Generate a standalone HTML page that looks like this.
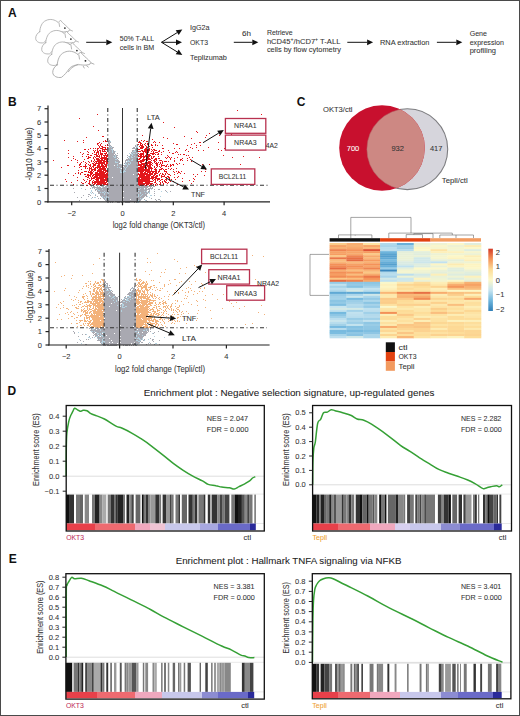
<!DOCTYPE html>
<html><head><meta charset="utf-8"><style>
html,body{margin:0;padding:0;background:#fff;}
svg{display:block;}
text{font-family:"Liberation Sans",sans-serif;}
</style></head><body>
<svg width="520" height="716" viewBox="0 0 520 716">
<rect x="0" y="0" width="520" height="716" fill="#fff"/>
<text x="8" y="16.6" font-size="12" fill="#111" stroke="#111" stroke-width="0" font-weight="bold">A</text>
<g fill="#fff" stroke="#a2a2a2" stroke-width="0.75" stroke-linejoin="round" stroke-linecap="round">
<g transform="translate(0.00,0.00) scale(1.0)"><path d="M39.7 31.7C40 27 42 22 46 20.5C50 18.5 55 19.5 58.2 22.5L60.5 20.2L62.4 22.5C64 24 67 26.5 69.7 29.4L69 31C67 32 64 32 62 31.8C58 31 53 32 50.5 35C48.5 38 46 41 43.5 42.8C40 43.5 36 42 35.7 38.6C35.5 35.5 37.5 33 39.7 31.7Z"/><path d="M49.7 37.8C51 35 54 33 58.2 31.3" fill="none"/><path d="M59 22.8L59.6 26.5" fill="none"/><circle cx="64.9" cy="28.1" r="0.85" fill="#222" stroke="none"/><path d="M66 32.5l1.5 1.2M63 33l0.8 1.5M70 30l2.5 1" fill="none"/></g>
<g transform="translate(6.00,11.00) scale(1.0)"><path d="M39.7 31.7C40 27 42 22 46 20.5C50 18.5 55 19.5 58.2 22.5L60.5 20.2L62.4 22.5C64 24 67 26.5 69.7 29.4L69 31C67 32 64 32 62 31.8C58 31 53 32 50.5 35C48.5 38 46 41 43.5 42.8C40 43.5 36 42 35.7 38.6C35.5 35.5 37.5 33 39.7 31.7Z"/><path d="M49.7 37.8C51 35 54 33 58.2 31.3" fill="none"/><path d="M59 22.8L59.6 26.5" fill="none"/><circle cx="64.9" cy="28.1" r="0.85" fill="#222" stroke="none"/><path d="M66 32.5l1.5 1.2M63 33l0.8 1.5M70 30l2.5 1" fill="none"/></g>
<g transform="translate(12.00,22.50) scale(1.0)"><path d="M39.7 31.7C40 27 42 22 46 20.5C50 18.5 55 19.5 58.2 22.5L60.5 20.2L62.4 22.5C64 24 67 26.5 69.7 29.4L69 31C67 32 64 32 62 31.8C58 31 53 32 50.5 35C48.5 38 46 41 43.5 42.8C40 43.5 36 42 35.7 38.6C35.5 35.5 37.5 33 39.7 31.7Z"/><path d="M49.7 37.8C51 35 54 33 58.2 31.3" fill="none"/><path d="M59 22.8L59.6 26.5" fill="none"/><circle cx="64.9" cy="28.1" r="0.85" fill="#222" stroke="none"/><path d="M66 32.5l1.5 1.2M63 33l0.8 1.5M70 30l2.5 1" fill="none"/></g>
<g transform="translate(12.76,29.40) scale(1.12)"><path d="M39.7 31.7C40 27 42 22 46 20.5C50 18.5 55 19.5 58.2 22.5L60.5 20.2L62.4 22.5C64 24 67 26.5 69.7 29.4L69 31C67 32 64 32 62 31.8C58 31 53 32 50.5 35C48.5 38 46 41 43.5 42.8C40 43.5 36 42 35.7 38.6C35.5 35.5 37.5 33 39.7 31.7Z"/><path d="M49.7 37.8C51 35 54 33 58.2 31.3" fill="none"/><path d="M59 22.8L59.6 26.5" fill="none"/><circle cx="64.9" cy="28.1" r="0.85" fill="#222" stroke="none"/><path d="M66 32.5l1.5 1.2M63 33l0.8 1.5M70 30l2.5 1" fill="none"/></g>
</g>
<line x1="86.2" y1="42.3" x2="106.3" y2="42.3" stroke="#111" stroke-width="1.0"/>
<path d="M112.3 42.3L106.3 45.2L106.3 39.4Z" fill="#111"/>
<text x="119.8" y="40.7" font-size="7.3" fill="#333" stroke="#333" stroke-width="0.06" textLength="34.4" lengthAdjust="spacingAndGlyphs">50% T-ALL</text>
<text x="119.8" y="49.7" font-size="7.3" fill="#333" stroke="#333" stroke-width="0.06" textLength="34.4" lengthAdjust="spacingAndGlyphs">cells in BM</text>
<line x1="161.5" y1="42.3" x2="177.2" y2="32.6" stroke="#111" stroke-width="1.0"/>
<path d="M182.3 29.5L178.7 35.1L175.7 30.2Z" fill="#111"/>
<line x1="161.5" y1="42.3" x2="176.0" y2="42.3" stroke="#111" stroke-width="1.0"/>
<path d="M182.0 42.3L176.0 45.2L176.0 39.4Z" fill="#111"/>
<line x1="161.5" y1="42.3" x2="177.2" y2="51.9" stroke="#111" stroke-width="1.0"/>
<path d="M182.3 55.0L175.7 54.3L178.7 49.4Z" fill="#111"/>
<text x="190" y="30.3" font-size="7.3" fill="#333" stroke="#333" stroke-width="0.06" textLength="19.5" lengthAdjust="spacingAndGlyphs">IgG2a</text>
<text x="190" y="44.9" font-size="7.3" fill="#333" stroke="#333" stroke-width="0.06" textLength="18" lengthAdjust="spacingAndGlyphs">OKT3</text>
<text x="190" y="59.5" font-size="7.3" fill="#333" stroke="#333" stroke-width="0.06" textLength="36.9" lengthAdjust="spacingAndGlyphs">Teplizumab</text>
<text x="242" y="35.5" font-size="7.3" fill="#333" stroke="#333" stroke-width="0.06" textLength="9" lengthAdjust="spacingAndGlyphs">6h</text>
<line x1="233.8" y1="42.3" x2="252.3" y2="42.3" stroke="#111" stroke-width="1.0"/>
<path d="M258.3 42.3L252.3 45.2L252.3 39.4Z" fill="#111"/>
<text x="266.9" y="35.1" font-size="7.3" fill="#333" stroke="#333" stroke-width="0.06" textLength="25.8" lengthAdjust="spacingAndGlyphs">Retrieve</text>
<text x="266.9" y="44" font-size="7.3" fill="#333" stroke="#333" stroke-width="0.06" textLength="73.5" lengthAdjust="spacingAndGlyphs">hCD45<tspan dy="-3" font-size="5">+</tspan><tspan dy="3">/hCD7</tspan><tspan dy="-3" font-size="5">+</tspan><tspan dy="3"> T-ALL</tspan></text>
<text x="266.9" y="52.2" font-size="7.3" fill="#333" stroke="#333" stroke-width="0.06" textLength="74" lengthAdjust="spacingAndGlyphs">cells by flow cytometry</text>
<line x1="347.3" y1="42.3" x2="367.1" y2="42.3" stroke="#111" stroke-width="1.0"/>
<path d="M373.1 42.3L367.1 45.2L367.1 39.4Z" fill="#111"/>
<text x="380" y="44.6" font-size="7.3" fill="#333" stroke="#333" stroke-width="0.06" textLength="49.5" lengthAdjust="spacingAndGlyphs">RNA extraction</text>
<line x1="436.9" y1="42.3" x2="456.3" y2="42.3" stroke="#111" stroke-width="1.0"/>
<path d="M462.3 42.3L456.3 45.2L456.3 39.4Z" fill="#111"/>
<text x="469.7" y="35.9" font-size="7.3" fill="#333" stroke="#333" stroke-width="0.06" textLength="17.3" lengthAdjust="spacingAndGlyphs">Gene</text>
<text x="469.7" y="44.6" font-size="7.3" fill="#333" stroke="#333" stroke-width="0.06" textLength="34.2" lengthAdjust="spacingAndGlyphs">expression</text>
<text x="469.7" y="53.4" font-size="7.3" fill="#333" stroke="#333" stroke-width="0.06" textLength="26.3" lengthAdjust="spacingAndGlyphs">profiling</text>
<text x="8" y="105.5" font-size="12" fill="#111" stroke="#111" stroke-width="0" font-weight="bold">B</text>
<path d="M109 140h1v1h-1zM108 141h2v1h-2zM108 142h3v1h-3zM108 143h2v1h-2zM109 144h1v1h-1zM137 144h1v1h-1zM108 145h3v1h-3zM135 145h1v1h-1zM137 145h1v1h-1zM109 146h3v1h-3zM135 146h3v1h-3zM108 147h6v1h-6zM133 147h2v1h-2zM136 147h2v1h-2zM108 148h5v1h-5zM132 148h3v1h-3zM136 148h2v1h-2zM108 149h4v1h-4zM135 149h3v1h-3zM108 150h6v1h-6zM132 150h6v1h-6zM108 151h7v1h-7zM132 151h1v1h-1zM134 151h4v1h-4zM108 152h7v1h-7zM131 152h7v1h-7zM108 153h7v1h-7zM117 153h1v1h-1zM131 153h7v1h-7zM108 154h6v1h-6zM115 154h1v1h-1zM130 154h8v1h-8zM108 155h10v1h-10zM127 155h1v1h-1zM130 155h8v1h-8zM108 156h9v1h-9zM128 156h10v1h-10zM108 157h10v1h-10zM127 157h1v1h-1zM129 157h9v1h-9zM108 158h9v1h-9zM118 158h1v1h-1zM128 158h10v1h-10zM108 159h10v1h-10zM126 159h12v1h-12zM109 160h10v1h-10zM125 160h13v1h-13zM108 161h12v1h-12zM125 161h1v1h-1zM127 161h11v1h-11zM108 162h12v1h-12zM125 162h13v1h-13zM108 163h11v1h-11zM124 163h14v1h-14zM108 164h14v1h-14zM125 164h12v1h-12zM108 165h6v1h-6zM115 165h7v1h-7zM123 165h15v1h-15zM108 166h14v1h-14zM124 166h14v1h-14zM108 167h14v1h-14zM123 167h15v1h-15zM108 168h13v1h-13zM122 168h15v1h-15zM108 169h14v1h-14zM123 169h15v1h-15zM108 170h30v1h-30zM108 171h30v1h-30zM108 172h30v1h-30zM108 173h30v1h-30zM108 174h25v1h-25zM134 174h4v1h-4zM108 175h30v1h-30zM108 176h30v1h-30zM108 177h4v1h-4zM113 177h25v1h-25zM108 178h30v1h-30zM108 179h30v1h-30zM108 180h30v1h-30zM108 181h30v1h-30zM108 182h30v1h-30zM108 183h30v1h-30zM108 184h30v1h-30zM91 185h1v1h-1zM93 185h1v1h-1zM96 185h1v1h-1zM100 185h2v1h-2zM104 185h1v1h-1zM107 185h30v1h-30zM138 185h4v1h-4zM143 185h2v1h-2zM149 185h1v1h-1zM91 186h1v1h-1zM93 186h2v1h-2zM97 186h1v1h-1zM99 186h1v1h-1zM101 186h3v1h-3zM105 186h47v1h-47zM153 186h2v1h-2zM92 187h9v1h-9zM102 187h46v1h-46zM150 187h1v1h-1zM152 187h1v1h-1zM73 188h1v1h-1zM90 188h1v1h-1zM94 188h1v1h-1zM97 188h47v1h-47zM145 188h2v1h-2zM148 188h5v1h-5zM85 189h1v1h-1zM95 189h55v1h-55zM151 189h1v1h-1zM154 189h1v1h-1zM158 189h2v1h-2zM95 190h1v1h-1zM97 190h11v1h-11zM109 190h38v1h-38zM149 190h1v1h-1zM165 190h1v1h-1zM91 191h1v1h-1zM97 191h26v1h-26zM124 191h23v1h-23zM148 191h2v1h-2zM154 191h1v1h-1zM166 191h1v1h-1zM170 191h1v1h-1zM74 192h1v1h-1zM92 192h1v1h-1zM98 192h52v1h-52zM98 193h50v1h-50zM154 193h1v1h-1zM88 194h2v1h-2zM100 194h47v1h-47zM83 195h1v1h-1zM90 195h1v1h-1zM95 195h1v1h-1zM100 195h47v1h-47zM154 195h1v1h-1zM88 196h1v1h-1zM97 196h1v1h-1zM101 196h44v1h-44zM146 196h1v1h-1zM77 197h1v1h-1zM81 197h1v1h-1zM92 197h1v1h-1zM102 197h21v1h-21zM124 197h20v1h-20zM98 198h1v1h-1zM100 198h1v1h-1zM103 198h40v1h-40zM151 198h1v1h-1zM86 199h1v1h-1zM104 199h26v1h-26zM131 199h11v1h-11zM144 199h1v1h-1zM155 199h1v1h-1zM158 199h2v1h-2zM79 200h1v1h-1zM105 200h36v1h-36zM146 200h1v1h-1zM156 200h1v1h-1zM160 200h1v1h-1zM106 201h8v1h-8zM115 201h25v1h-25zM147 201h1v1h-1zM107 202h2v1h-2zM110 202h1v1h-1zM112 202h1v1h-1zM117 202h3v1h-3zM121 202h1v1h-1zM125 202h5v1h-5zM134 202h1v1h-1zM136 202h3v1h-3z" fill="#a9a9b1"/>
<path d="M110 141h1v1h-1zM109 142h1v1h-1zM110 146h1v1h-1zM136 146h2v1h-2zM109 147h1v1h-1zM111 147h1v1h-1zM137 147h1v1h-1zM135 148h1v1h-1zM111 149h2v1h-2zM137 149h1v1h-1zM112 150h1v1h-1zM134 150h1v1h-1zM109 151h1v1h-1zM112 151h1v1h-1zM115 151h1v1h-1zM133 151h3v1h-3zM112 152h1v1h-1zM132 152h1v1h-1zM129 153h1v1h-1zM131 153h1v1h-1zM133 153h2v1h-2zM136 153h1v1h-1zM131 154h2v1h-2zM115 155h1v1h-1zM132 155h1v1h-1zM113 156h1v1h-1zM115 156h1v1h-1zM128 156h1v1h-1zM131 156h1v1h-1zM134 156h1v1h-1zM114 157h2v1h-2zM129 157h1v1h-1zM131 157h2v1h-2zM129 158h1v1h-1zM115 159h2v1h-2zM132 159h1v1h-1zM128 160h1v1h-1zM131 160h2v1h-2zM115 161h1v1h-1zM127 161h3v1h-3zM115 162h3v1h-3zM126 162h1v1h-1zM130 162h1v1h-1zM125 163h1v1h-1zM128 163h1v1h-1zM130 163h1v1h-1zM117 164h1v1h-1zM121 164h1v1h-1zM125 164h2v1h-2zM128 164h2v1h-2zM117 165h1v1h-1zM127 165h1v1h-1zM127 166h1v1h-1zM117 167h1v1h-1zM119 167h1v1h-1zM124 167h1v1h-1zM126 167h1v1h-1zM120 168h1v1h-1zM122 168h1v1h-1zM125 168h1v1h-1zM125 169h1v1h-1zM120 170h1v1h-1zM124 170h1v1h-1zM120 171h1v1h-1zM123 171h3v1h-3zM120 172h2v1h-2zM123 172h1v1h-1zM122 173h1v1h-1zM122 174h1v1h-1zM98 185h1v1h-1zM99 186h1v1h-1zM101 186h1v1h-1zM140 186h1v1h-1zM102 187h1v1h-1zM107 187h1v1h-1zM81 188h1v1h-1zM92 188h1v1h-1zM96 188h1v1h-1zM140 188h1v1h-1zM97 189h1v1h-1zM102 189h1v1h-1zM138 189h2v1h-2zM144 189h1v1h-1zM151 189h1v1h-1zM91 190h1v1h-1zM98 190h2v1h-2zM91 191h1v1h-1zM104 191h1v1h-1zM138 191h1v1h-1zM144 191h1v1h-1zM146 191h1v1h-1zM161 191h1v1h-1zM90 192h1v1h-1zM100 192h1v1h-1zM102 192h2v1h-2zM105 192h1v1h-1zM107 192h1v1h-1zM140 192h1v1h-1zM147 192h1v1h-1zM149 192h1v1h-1zM167 192h1v1h-1zM91 193h1v1h-1zM93 193h1v1h-1zM104 193h1v1h-1zM108 193h1v1h-1zM140 193h1v1h-1zM145 193h1v1h-1zM149 193h1v1h-1zM95 194h1v1h-1zM104 194h1v1h-1zM107 194h1v1h-1zM138 194h1v1h-1zM142 194h1v1h-1zM138 195h1v1h-1zM141 195h1v1h-1zM150 195h2v1h-2zM102 196h1v1h-1zM106 196h1v1h-1zM138 196h1v1h-1zM140 196h1v1h-1zM147 196h1v1h-1zM160 196h1v1h-1zM94 197h2v1h-2zM102 197h1v1h-1zM104 197h1v1h-1zM106 197h1v1h-1zM108 197h1v1h-1zM149 197h1v1h-1zM91 198h1v1h-1zM105 198h1v1h-1zM107 198h2v1h-2zM140 198h1v1h-1zM142 198h1v1h-1zM105 199h1v1h-1zM107 199h2v1h-2zM141 199h1v1h-1zM107 200h1v1h-1zM137 200h2v1h-2zM145 200h1v1h-1zM107 201h1v1h-1zM137 201h2v1h-2zM137 202h2v1h-2z" fill="#b4d2e0"/>
<path d="M237 110h1v1h-1zM97 114h1v1h-1zM261 114h1v1h-1zM79 118h1v1h-1zM163 122h1v1h-1zM93 126h1v1h-1zM174 127h1v1h-1zM98 130h1v1h-1zM196 131h1v1h-1zM197 132h1v1h-1zM242 132h1v1h-1zM209 133h1v1h-1zM231 134h1v1h-1zM142 135h1v1h-1zM206 135h1v1h-1zM219 135h1v1h-1zM228 135h1v1h-1zM102 136h2v1h-2zM184 136h1v1h-1zM255 136h1v1h-1zM86 137h1v1h-1zM163 137h1v1h-1zM205 137h1v1h-1zM242 137h1v1h-1zM167 138h1v1h-1zM191 138h1v1h-1zM107 139h1v1h-1zM152 139h1v1h-1zM250 139h1v1h-1zM64 140h1v1h-1zM83 140h1v1h-1zM105 140h1v1h-1zM141 140h1v1h-1zM144 140h1v1h-1zM77 141h1v1h-1zM103 141h1v1h-1zM105 141h2v1h-2zM139 141h1v1h-1zM143 141h1v1h-1zM146 141h2v1h-2zM154 141h1v1h-1zM83 142h1v1h-1zM99 142h1v1h-1zM138 142h3v1h-3zM153 142h1v1h-1zM155 142h1v1h-1zM159 142h1v1h-1zM199 142h2v1h-2zM218 142h1v1h-1zM228 142h1v1h-1zM97 143h2v1h-2zM101 143h1v1h-1zM140 143h2v1h-2zM145 143h1v1h-1zM147 143h2v1h-2zM173 143h1v1h-1zM194 143h1v1h-1zM243 143h1v1h-1zM97 144h1v1h-1zM100 144h1v1h-1zM107 144h1v1h-1zM138 144h1v1h-1zM140 144h1v1h-1zM142 144h1v1h-1zM144 144h1v1h-1zM147 144h2v1h-2zM151 144h1v1h-1zM155 144h1v1h-1zM176 144h2v1h-2zM191 144h1v1h-1zM233 144h1v1h-1zM98 145h1v1h-1zM100 145h1v1h-1zM105 145h1v1h-1zM107 145h1v1h-1zM140 145h3v1h-3zM145 145h1v1h-1zM151 145h2v1h-2zM155 145h1v1h-1zM157 145h1v1h-1zM162 145h1v1h-1zM187 145h1v1h-1zM196 145h1v1h-1zM200 145h1v1h-1zM99 146h1v1h-1zM101 146h2v1h-2zM139 146h1v1h-1zM141 146h3v1h-3zM146 146h1v1h-1zM149 146h1v1h-1zM99 147h1v1h-1zM102 147h4v1h-4zM107 147h1v1h-1zM140 147h4v1h-4zM146 147h2v1h-2zM152 147h1v1h-1zM190 147h1v1h-1zM196 147h1v1h-1zM208 147h1v1h-1zM90 148h1v1h-1zM93 148h1v1h-1zM95 148h1v1h-1zM97 148h2v1h-2zM100 148h3v1h-3zM105 148h1v1h-1zM140 148h3v1h-3zM145 148h2v1h-2zM149 148h1v1h-1zM162 148h2v1h-2zM174 148h1v1h-1zM179 148h1v1h-1zM192 148h1v1h-1zM224 148h1v1h-1zM84 149h2v1h-2zM88 149h1v1h-1zM97 149h1v1h-1zM102 149h5v1h-5zM138 149h2v1h-2zM144 149h6v1h-6zM151 149h1v1h-1zM153 149h2v1h-2zM186 149h1v1h-1zM218 149h1v1h-1zM68 150h1v1h-1zM93 150h1v1h-1zM95 150h1v1h-1zM97 150h1v1h-1zM99 150h2v1h-2zM102 150h1v1h-1zM104 150h1v1h-1zM141 150h2v1h-2zM144 150h6v1h-6zM152 150h1v1h-1zM154 150h3v1h-3zM159 150h1v1h-1zM168 150h1v1h-1zM185 150h1v1h-1zM198 150h1v1h-1zM203 150h1v1h-1zM221 150h1v1h-1zM87 151h1v1h-1zM94 151h1v1h-1zM97 151h2v1h-2zM100 151h1v1h-1zM102 151h4v1h-4zM138 151h3v1h-3zM142 151h5v1h-5zM148 151h1v1h-1zM151 151h1v1h-1zM153 151h1v1h-1zM158 151h2v1h-2zM163 151h1v1h-1zM176 151h1v1h-1zM188 151h1v1h-1zM80 152h1v1h-1zM88 152h1v1h-1zM94 152h1v1h-1zM96 152h3v1h-3zM100 152h1v1h-1zM106 152h1v1h-1zM143 152h1v1h-1zM145 152h2v1h-2zM148 152h1v1h-1zM153 152h1v1h-1zM155 152h3v1h-3zM161 152h1v1h-1zM169 152h1v1h-1zM175 152h1v1h-1zM177 152h1v1h-1zM68 153h1v1h-1zM83 153h1v1h-1zM92 153h1v1h-1zM96 153h1v1h-1zM98 153h1v1h-1zM100 153h3v1h-3zM104 153h3v1h-3zM138 153h1v1h-1zM140 153h4v1h-4zM146 153h1v1h-1zM150 153h5v1h-5zM158 153h1v1h-1zM172 153h2v1h-2zM82 154h1v1h-1zM87 154h2v1h-2zM94 154h3v1h-3zM98 154h1v1h-1zM100 154h3v1h-3zM105 154h1v1h-1zM107 154h1v1h-1zM139 154h5v1h-5zM146 154h4v1h-4zM152 154h2v1h-2zM155 154h1v1h-1zM157 154h2v1h-2zM161 154h1v1h-1zM178 154h1v1h-1zM180 154h1v1h-1zM183 154h2v1h-2zM90 155h2v1h-2zM96 155h2v1h-2zM99 155h1v1h-1zM101 155h1v1h-1zM103 155h5v1h-5zM138 155h1v1h-1zM140 155h2v1h-2zM143 155h1v1h-1zM145 155h2v1h-2zM148 155h3v1h-3zM167 155h1v1h-1zM186 155h1v1h-1zM188 155h1v1h-1zM223 155h1v1h-1zM73 156h1v1h-1zM82 156h1v1h-1zM86 156h1v1h-1zM88 156h1v1h-1zM94 156h1v1h-1zM96 156h4v1h-4zM101 156h1v1h-1zM104 156h1v1h-1zM106 156h2v1h-2zM138 156h12v1h-12zM151 156h1v1h-1zM153 156h2v1h-2zM158 156h1v1h-1zM168 156h1v1h-1zM243 156h1v1h-1zM68 157h1v1h-1zM88 157h3v1h-3zM93 157h1v1h-1zM95 157h1v1h-1zM99 157h1v1h-1zM101 157h6v1h-6zM140 157h2v1h-2zM143 157h2v1h-2zM146 157h3v1h-3zM151 157h1v1h-1zM153 157h1v1h-1zM165 157h1v1h-1zM167 157h1v1h-1zM169 157h1v1h-1zM171 157h1v1h-1zM177 157h1v1h-1zM189 157h1v1h-1zM192 157h1v1h-1zM232 157h1v1h-1zM259 157h1v1h-1zM73 158h1v1h-1zM87 158h2v1h-2zM93 158h1v1h-1zM96 158h3v1h-3zM100 158h8v1h-8zM139 158h2v1h-2zM143 158h1v1h-1zM146 158h4v1h-4zM151 158h2v1h-2zM155 158h2v1h-2zM158 158h2v1h-2zM166 158h1v1h-1zM170 158h1v1h-1zM174 158h1v1h-1zM182 158h1v1h-1zM187 158h1v1h-1zM75 159h1v1h-1zM84 159h1v1h-1zM94 159h1v1h-1zM96 159h4v1h-4zM101 159h2v1h-2zM104 159h4v1h-4zM138 159h2v1h-2zM142 159h9v1h-9zM154 159h3v1h-3zM170 159h1v1h-1zM180 159h2v1h-2zM190 159h1v1h-1zM53 160h1v1h-1zM71 160h1v1h-1zM77 160h1v1h-1zM91 160h1v1h-1zM94 160h1v1h-1zM97 160h8v1h-8zM106 160h2v1h-2zM140 160h5v1h-5zM146 160h2v1h-2zM151 160h1v1h-1zM153 160h2v1h-2zM156 160h1v1h-1zM159 160h3v1h-3zM174 160h1v1h-1zM180 160h1v1h-1zM182 160h1v1h-1zM187 160h1v1h-1zM83 161h1v1h-1zM88 161h1v1h-1zM91 161h1v1h-1zM93 161h1v1h-1zM95 161h7v1h-7zM103 161h5v1h-5zM138 161h6v1h-6zM148 161h3v1h-3zM154 161h2v1h-2zM162 161h1v1h-1zM164 161h3v1h-3zM168 161h1v1h-1zM174 161h1v1h-1zM191 161h1v1h-1zM77 162h1v1h-1zM81 162h1v1h-1zM85 162h1v1h-1zM89 162h1v1h-1zM94 162h1v1h-1zM96 162h1v1h-1zM98 162h7v1h-7zM106 162h2v1h-2zM138 162h1v1h-1zM140 162h2v1h-2zM145 162h7v1h-7zM154 162h1v1h-1zM156 162h1v1h-1zM158 162h1v1h-1zM160 162h1v1h-1zM162 162h1v1h-1zM80 163h1v1h-1zM86 163h1v1h-1zM92 163h2v1h-2zM95 163h10v1h-10zM106 163h2v1h-2zM138 163h1v1h-1zM141 163h10v1h-10zM152 163h1v1h-1zM155 163h3v1h-3zM160 163h1v1h-1zM162 163h1v1h-1zM176 163h1v1h-1zM179 163h1v1h-1zM79 164h2v1h-2zM85 164h1v1h-1zM88 164h1v1h-1zM90 164h1v1h-1zM93 164h3v1h-3zM98 164h2v1h-2zM101 164h2v1h-2zM104 164h3v1h-3zM138 164h7v1h-7zM146 164h2v1h-2zM149 164h3v1h-3zM156 164h2v1h-2zM159 164h1v1h-1zM161 164h1v1h-1zM167 164h1v1h-1zM170 164h1v1h-1zM172 164h2v1h-2zM177 164h1v1h-1zM183 164h1v1h-1zM202 164h1v1h-1zM209 164h1v1h-1zM240 164h1v1h-1zM67 165h2v1h-2zM79 165h1v1h-1zM85 165h1v1h-1zM89 165h2v1h-2zM93 165h3v1h-3zM97 165h3v1h-3zM101 165h3v1h-3zM105 165h2v1h-2zM138 165h4v1h-4zM143 165h8v1h-8zM152 165h1v1h-1zM156 165h2v1h-2zM161 165h4v1h-4zM166 165h1v1h-1zM170 165h2v1h-2zM173 165h1v1h-1zM74 166h1v1h-1zM80 166h2v1h-2zM83 166h4v1h-4zM90 166h1v1h-1zM92 166h2v1h-2zM97 166h10v1h-10zM140 166h6v1h-6zM147 166h4v1h-4zM154 166h1v1h-1zM157 166h1v1h-1zM159 166h1v1h-1zM161 166h1v1h-1zM165 166h2v1h-2zM168 166h1v1h-1zM170 166h1v1h-1zM61 167h1v1h-1zM79 167h1v1h-1zM85 167h1v1h-1zM89 167h1v1h-1zM91 167h1v1h-1zM93 167h1v1h-1zM95 167h6v1h-6zM102 167h3v1h-3zM106 167h1v1h-1zM138 167h9v1h-9zM148 167h4v1h-4zM154 167h1v1h-1zM156 167h1v1h-1zM160 167h1v1h-1zM85 168h1v1h-1zM87 168h1v1h-1zM89 168h3v1h-3zM94 168h2v1h-2zM97 168h1v1h-1zM99 168h7v1h-7zM138 168h6v1h-6zM145 168h2v1h-2zM148 168h5v1h-5zM155 168h1v1h-1zM161 168h2v1h-2zM168 168h1v1h-1zM171 168h1v1h-1zM176 168h1v1h-1zM81 169h1v1h-1zM89 169h1v1h-1zM91 169h5v1h-5zM98 169h8v1h-8zM138 169h12v1h-12zM151 169h1v1h-1zM154 169h3v1h-3zM159 169h3v1h-3zM163 169h1v1h-1zM165 169h2v1h-2zM170 169h1v1h-1zM173 169h1v1h-1zM205 169h1v1h-1zM78 170h1v1h-1zM89 170h1v1h-1zM91 170h2v1h-2zM94 170h2v1h-2zM97 170h5v1h-5zM103 170h5v1h-5zM138 170h12v1h-12zM151 170h1v1h-1zM155 170h2v1h-2zM159 170h1v1h-1zM164 170h1v1h-1zM215 170h2v1h-2zM84 171h3v1h-3zM88 171h1v1h-1zM90 171h2v1h-2zM93 171h1v1h-1zM97 171h7v1h-7zM105 171h3v1h-3zM138 171h6v1h-6zM145 171h12v1h-12zM158 171h2v1h-2zM164 171h3v1h-3zM173 171h1v1h-1zM176 171h1v1h-1zM178 171h1v1h-1zM181 171h1v1h-1zM201 171h1v1h-1zM205 171h1v1h-1zM78 172h1v1h-1zM81 172h2v1h-2zM88 172h5v1h-5zM95 172h3v1h-3zM99 172h7v1h-7zM107 172h1v1h-1zM140 172h3v1h-3zM144 172h2v1h-2zM147 172h4v1h-4zM152 172h2v1h-2zM155 172h2v1h-2zM158 172h1v1h-1zM166 172h1v1h-1zM174 172h1v1h-1zM178 172h2v1h-2zM68 173h1v1h-1zM75 173h1v1h-1zM78 173h1v1h-1zM80 173h1v1h-1zM90 173h3v1h-3zM95 173h10v1h-10zM106 173h2v1h-2zM138 173h1v1h-1zM140 173h8v1h-8zM149 173h4v1h-4zM154 173h4v1h-4zM160 173h1v1h-1zM162 173h1v1h-1zM165 173h1v1h-1zM167 173h1v1h-1zM177 173h1v1h-1zM180 173h1v1h-1zM184 173h1v1h-1zM221 173h1v1h-1zM80 174h1v1h-1zM84 174h2v1h-2zM87 174h2v1h-2zM90 174h2v1h-2zM93 174h15v1h-15zM138 174h15v1h-15zM154 174h2v1h-2zM159 174h1v1h-1zM162 174h2v1h-2zM165 174h1v1h-1zM168 174h2v1h-2zM174 174h1v1h-1zM193 174h1v1h-1zM197 174h1v1h-1zM73 175h1v1h-1zM87 175h4v1h-4zM92 175h2v1h-2zM95 175h13v1h-13zM139 175h6v1h-6zM146 175h5v1h-5zM153 175h2v1h-2zM156 175h2v1h-2zM159 175h1v1h-1zM161 175h1v1h-1zM164 175h1v1h-1zM170 175h1v1h-1zM204 175h1v1h-1zM238 175h1v1h-1zM85 176h2v1h-2zM88 176h1v1h-1zM90 176h1v1h-1zM92 176h1v1h-1zM94 176h4v1h-4zM99 176h9v1h-9zM139 176h11v1h-11zM151 176h3v1h-3zM155 176h3v1h-3zM161 176h4v1h-4zM167 176h2v1h-2zM178 176h1v1h-1zM195 176h1v1h-1zM77 177h1v1h-1zM87 177h2v1h-2zM91 177h1v1h-1zM93 177h15v1h-15zM138 177h12v1h-12zM151 177h6v1h-6zM161 177h1v1h-1zM165 177h2v1h-2zM168 177h2v1h-2zM174 177h1v1h-1zM177 177h1v1h-1zM89 178h1v1h-1zM91 178h4v1h-4zM96 178h8v1h-8zM105 178h3v1h-3zM138 178h2v1h-2zM141 178h13v1h-13zM155 178h5v1h-5zM169 178h1v1h-1zM182 178h1v1h-1zM193 178h1v1h-1zM65 179h1v1h-1zM83 179h1v1h-1zM87 179h1v1h-1zM91 179h1v1h-1zM95 179h4v1h-4zM100 179h8v1h-8zM138 179h12v1h-12zM152 179h1v1h-1zM154 179h2v1h-2zM157 179h3v1h-3zM161 179h2v1h-2zM165 179h2v1h-2zM169 179h1v1h-1zM171 179h1v1h-1zM175 179h1v1h-1zM194 179h1v1h-1zM77 180h1v1h-1zM84 180h1v1h-1zM89 180h2v1h-2zM93 180h1v1h-1zM96 180h3v1h-3zM100 180h8v1h-8zM138 180h12v1h-12zM153 180h1v1h-1zM155 180h1v1h-1zM157 180h1v1h-1zM160 180h1v1h-1zM164 180h1v1h-1zM166 180h1v1h-1zM169 180h1v1h-1zM189 180h1v1h-1zM237 180h1v1h-1zM66 181h1v1h-1zM86 181h1v1h-1zM89 181h1v1h-1zM92 181h1v1h-1zM94 181h11v1h-11zM106 181h2v1h-2zM138 181h15v1h-15zM155 181h1v1h-1zM159 181h1v1h-1zM162 181h1v1h-1zM164 181h2v1h-2zM170 181h1v1h-1zM173 181h1v1h-1zM182 181h1v1h-1zM193 181h1v1h-1zM71 182h1v1h-1zM81 182h1v1h-1zM85 182h1v1h-1zM89 182h1v1h-1zM92 182h15v1h-15zM138 182h5v1h-5zM145 182h5v1h-5zM154 182h2v1h-2zM160 182h1v1h-1zM162 182h1v1h-1zM165 182h2v1h-2zM168 182h1v1h-1zM82 183h2v1h-2zM88 183h2v1h-2zM92 183h1v1h-1zM94 183h2v1h-2zM97 183h9v1h-9zM107 183h1v1h-1zM138 183h15v1h-15zM156 183h1v1h-1zM160 183h1v1h-1zM163 183h1v1h-1zM167 183h1v1h-1zM191 183h1v1h-1zM73 184h1v1h-1zM89 184h2v1h-2zM93 184h2v1h-2zM96 184h6v1h-6zM103 184h5v1h-5zM138 184h7v1h-7zM146 184h3v1h-3zM150 184h2v1h-2zM153 184h1v1h-1zM155 184h1v1h-1zM157 184h1v1h-1zM159 184h2v1h-2zM163 184h1v1h-1zM177 184h1v1h-1zM86 185h2v1h-2zM100 185h2v1h-2zM139 185h4v1h-4zM145 185h2v1h-2zM149 185h1v1h-1zM155 185h1v1h-1z" fill="#e3171c"/>
<g stroke="#222" stroke-width="1.2">
<line x1="48" y1="105.6" x2="48" y2="202.4"/>
<line x1="47.4" y1="201.8" x2="270" y2="201.8"/>
<line x1="44.5" y1="201.8" x2="48" y2="201.8"/>
<line x1="44.5" y1="188.5" x2="48" y2="188.5"/>
<line x1="44.5" y1="175.2" x2="48" y2="175.2"/>
<line x1="44.5" y1="161.9" x2="48" y2="161.9"/>
<line x1="44.5" y1="148.6" x2="48" y2="148.6"/>
<line x1="44.5" y1="135.3" x2="48" y2="135.3"/>
<line x1="44.5" y1="122.0" x2="48" y2="122.0"/>
<line x1="44.5" y1="108.7" x2="48" y2="108.7"/>
<line x1="71.7" y1="201.8" x2="71.7" y2="205.3"/>
<line x1="122.5" y1="201.8" x2="122.5" y2="205.3"/>
<line x1="173.3" y1="201.8" x2="173.3" y2="205.3"/>
<line x1="224.1" y1="201.8" x2="224.1" y2="205.3"/>
</g>
<line x1="122.5" y1="108" x2="122.5" y2="201.8" stroke="#333" stroke-width="1"/>
<line x1="107.768" y1="108" x2="107.768" y2="201.8" stroke="#333" stroke-width="1.1" stroke-dasharray="4 2.5 1 2.5"/>
<line x1="137.232" y1="108" x2="137.232" y2="201.8" stroke="#333" stroke-width="1.1" stroke-dasharray="4 2.5 1 2.5"/>
<line x1="50" y1="185.3" x2="270" y2="185.3" stroke="#333" stroke-width="1.1" stroke-dasharray="4 2.5 1 2.5"/>
<text x="41.2" y="204.5" font-size="7.5" fill="#333" stroke="#333" stroke-width="0.06" text-anchor="end">0</text>
<text x="41.2" y="191.2" font-size="7.5" fill="#333" stroke="#333" stroke-width="0.06" text-anchor="end">1</text>
<text x="41.2" y="177.9" font-size="7.5" fill="#333" stroke="#333" stroke-width="0.06" text-anchor="end">2</text>
<text x="41.2" y="164.6" font-size="7.5" fill="#333" stroke="#333" stroke-width="0.06" text-anchor="end">3</text>
<text x="41.2" y="151.3" font-size="7.5" fill="#333" stroke="#333" stroke-width="0.06" text-anchor="end">4</text>
<text x="41.2" y="138.0" font-size="7.5" fill="#333" stroke="#333" stroke-width="0.06" text-anchor="end">5</text>
<text x="41.2" y="124.7" font-size="7.5" fill="#333" stroke="#333" stroke-width="0.06" text-anchor="end">6</text>
<text x="41.2" y="111.4" font-size="7.5" fill="#333" stroke="#333" stroke-width="0.06" text-anchor="end">7</text>
<text x="71.7" y="215.5" font-size="7.5" fill="#333" stroke="#333" stroke-width="0.06" text-anchor="middle">−2</text>
<text x="122.5" y="215.5" font-size="7.5" fill="#333" stroke="#333" stroke-width="0.06" text-anchor="middle">0</text>
<text x="173.3" y="215.5" font-size="7.5" fill="#333" stroke="#333" stroke-width="0.06" text-anchor="middle">2</text>
<text x="224.1" y="215.5" font-size="7.5" fill="#333" stroke="#333" stroke-width="0.06" text-anchor="middle">4</text>
<text x="112.7" y="228" font-size="9.5" fill="#333" stroke="#333" stroke-width="0.06" textLength="92.3" lengthAdjust="spacingAndGlyphs">log2 fold change (OKT3/ctl)</text>
<text x="0" y="0" font-size="9.5" fill="#333" stroke="#333" stroke-width="0.06" textLength="53" lengthAdjust="spacingAndGlyphs" transform="translate(32.3,180.3) rotate(-90)">-log10 (pvalue)</text>
<rect x="225.4" y="118.5" width="40.4" height="14.8" fill="#fff" stroke="#b8324f" stroke-width="1.3"/>
<rect x="225.4" y="135.1" width="40.4" height="15" fill="#fff" stroke="#b8324f" stroke-width="1.3"/>
<rect x="211.3" y="168.9" width="43.5" height="15.5" fill="#fff" stroke="#b8324f" stroke-width="1.3"/>
<text x="234.1" y="128.2" font-size="7.5" fill="#333" stroke="#333" stroke-width="0.06" textLength="22.5" lengthAdjust="spacingAndGlyphs">NR4A1</text>
<text x="234.1" y="145" font-size="7.5" fill="#333" stroke="#333" stroke-width="0.06" textLength="22.5" lengthAdjust="spacingAndGlyphs">NR4A3</text>
<text x="265.8" y="147.7" font-size="7.5" fill="#333" stroke="#333" stroke-width="0.06" textLength="12.1" lengthAdjust="spacingAndGlyphs">4A2</text>
<text x="218.8" y="179.3" font-size="7.5" fill="#333" stroke="#333" stroke-width="0.06" textLength="27.5" lengthAdjust="spacingAndGlyphs">BCL2L11</text>
<text x="147" y="120.2" font-size="7.5" fill="#333" stroke="#333" stroke-width="0.06" textLength="12.7" lengthAdjust="spacingAndGlyphs">LTA</text>
<text x="191" y="196.5" font-size="7.5" fill="#333" stroke="#333" stroke-width="0.06" textLength="14" lengthAdjust="spacingAndGlyphs">TNF</text>
<line x1="145.4" y1="168.8" x2="150.7" y2="128.6" stroke="#111" stroke-width="1.0"/>
<path d="M151.5 122.7L153.6 129.0L147.8 128.3Z" fill="#111"/>
<line x1="203.0" y1="142.7" x2="218.7" y2="133.1" stroke="#111" stroke-width="1.0"/>
<path d="M223.8 130.0L220.2 135.6L217.2 130.7Z" fill="#111"/>
<line x1="191.0" y1="160.0" x2="201.8" y2="166.4" stroke="#111" stroke-width="1.0"/>
<path d="M207.0 169.5L200.4 168.9L203.3 163.9Z" fill="#111"/>
<line x1="166.0" y1="178.0" x2="183.6" y2="186.9" stroke="#111" stroke-width="1.0"/>
<path d="M189.0 189.6L182.3 189.5L184.9 184.3Z" fill="#111"/>
<path d="M104 280h1v1h-1zM104 281h2v1h-2zM104 282h2v1h-2zM106 283h2v1h-2zM105 284h1v1h-1zM107 284h1v1h-1zM104 285h2v1h-2zM107 285h1v1h-1zM109 285h1v1h-1zM104 286h4v1h-4zM134 286h1v1h-1zM104 287h7v1h-7zM132 287h1v1h-1zM134 287h1v1h-1zM104 288h5v1h-5zM131 288h1v1h-1zM133 288h2v1h-2zM104 289h3v1h-3zM108 289h2v1h-2zM130 289h1v1h-1zM133 289h1v1h-1zM135 289h1v1h-1zM104 290h8v1h-8zM130 290h1v1h-1zM132 290h4v1h-4zM104 291h7v1h-7zM112 291h1v1h-1zM131 291h5v1h-5zM104 292h8v1h-8zM129 292h7v1h-7zM104 293h9v1h-9zM128 293h8v1h-8zM104 294h11v1h-11zM127 294h9v1h-9zM105 295h4v1h-4zM110 295h5v1h-5zM129 295h7v1h-7zM104 296h12v1h-12zM118 296h1v1h-1zM125 296h1v1h-1zM127 296h9v1h-9zM105 297h13v1h-13zM124 297h2v1h-2zM127 297h8v1h-8zM104 298h14v1h-14zM125 298h2v1h-2zM128 298h8v1h-8zM104 299h14v1h-14zM119 299h1v1h-1zM121 299h1v1h-1zM123 299h2v1h-2zM126 299h10v1h-10zM104 300h14v1h-14zM122 300h14v1h-14zM104 301h15v1h-15zM121 301h15v1h-15zM104 302h15v1h-15zM120 302h16v1h-16zM104 303h7v1h-7zM112 303h7v1h-7zM122 303h14v1h-14zM104 304h15v1h-15zM121 304h15v1h-15zM104 305h32v1h-32zM105 306h4v1h-4zM110 306h10v1h-10zM121 306h15v1h-15zM104 307h32v1h-32zM104 308h32v1h-32zM104 309h32v1h-32zM104 310h12v1h-12zM117 310h19v1h-19zM104 311h15v1h-15zM120 311h16v1h-16zM105 312h31v1h-31zM104 313h32v1h-32zM104 314h32v1h-32zM105 315h31v1h-31zM104 316h32v1h-32zM104 317h32v1h-32zM105 318h31v1h-31zM104 319h32v1h-32zM104 320h32v1h-32zM104 321h32v1h-32zM104 322h32v1h-32zM104 323h32v1h-32zM104 324h32v1h-32zM104 325h16v1h-16zM121 325h15v1h-15zM105 326h28v1h-28zM134 326h2v1h-2zM105 327h31v1h-31zM89 328h1v1h-1zM91 328h2v1h-2zM95 328h4v1h-4zM100 328h19v1h-19zM120 328h29v1h-29zM150 328h1v1h-1zM91 329h5v1h-5zM97 329h40v1h-40zM138 329h11v1h-11zM150 329h1v1h-1zM90 330h30v1h-30zM121 330h28v1h-28zM73 331h1v1h-1zM91 331h1v1h-1zM93 331h1v1h-1zM95 331h52v1h-52zM148 331h1v1h-1zM150 331h1v1h-1zM158 331h1v1h-1zM74 332h1v1h-1zM92 332h3v1h-3zM97 332h41v1h-41zM139 332h3v1h-3zM143 332h5v1h-5zM154 332h1v1h-1zM74 333h1v1h-1zM93 333h1v1h-1zM95 333h7v1h-7zM103 333h11v1h-11zM115 333h32v1h-32zM153 333h1v1h-1zM82 334h1v1h-1zM85 334h1v1h-1zM94 334h52v1h-52zM93 335h1v1h-1zM95 335h3v1h-3zM99 335h2v1h-2zM102 335h4v1h-4zM107 335h39v1h-39zM78 336h1v1h-1zM89 336h1v1h-1zM95 336h5v1h-5zM101 336h19v1h-19zM121 336h23v1h-23zM92 337h1v1h-1zM94 337h1v1h-1zM97 337h46v1h-46zM98 338h11v1h-11zM110 338h33v1h-33zM150 338h1v1h-1zM86 339h1v1h-1zM88 339h1v1h-1zM98 339h21v1h-21zM121 339h21v1h-21zM144 339h1v1h-1zM152 339h2v1h-2zM80 340h1v1h-1zM97 340h14v1h-14zM112 340h29v1h-29zM143 340h2v1h-2zM152 340h1v1h-1zM159 340h1v1h-1zM83 341h1v1h-1zM100 341h41v1h-41zM153 341h1v1h-1zM77 342h1v1h-1zM100 342h9v1h-9zM110 342h2v1h-2zM113 342h7v1h-7zM121 342h13v1h-13zM135 342h5v1h-5zM141 342h2v1h-2zM101 343h16v1h-16zM118 343h13v1h-13zM132 343h7v1h-7zM148 343h1v1h-1zM150 343h1v1h-1zM156 343h1v1h-1zM85 344h2v1h-2zM102 344h7v1h-7zM110 344h21v1h-21zM132 344h6v1h-6zM146 344h1v1h-1zM154 344h1v1h-1zM159 344h1v1h-1zM103 345h3v1h-3zM107 345h10v1h-10zM123 345h1v1h-1zM125 345h3v1h-3zM129 345h1v1h-1zM131 345h1v1h-1zM133 345h1v1h-1zM135 345h2v1h-2z" fill="#a9a9b1"/>
<path d="M106 285h1v1h-1zM105 286h2v1h-2zM106 288h2v1h-2zM132 288h1v1h-1zM106 290h3v1h-3zM110 290h1v1h-1zM131 291h1v1h-1zM109 292h1v1h-1zM133 292h1v1h-1zM135 292h1v1h-1zM108 293h1v1h-1zM107 294h1v1h-1zM130 294h1v1h-1zM132 295h1v1h-1zM109 296h2v1h-2zM113 296h2v1h-2zM127 296h4v1h-4zM112 297h2v1h-2zM125 297h1v1h-1zM129 297h2v1h-2zM111 298h1v1h-1zM114 298h1v1h-1zM124 298h1v1h-1zM127 298h2v1h-2zM132 298h1v1h-1zM123 299h1v1h-1zM126 299h2v1h-2zM130 299h1v1h-1zM113 300h1v1h-1zM116 300h1v1h-1zM126 300h3v1h-3zM116 301h1v1h-1zM123 301h2v1h-2zM129 301h1v1h-1zM114 302h1v1h-1zM126 302h1v1h-1zM122 303h1v1h-1zM122 304h2v1h-2zM117 305h1v1h-1zM120 305h1v1h-1zM122 305h2v1h-2zM122 306h1v1h-1zM125 306h2v1h-2zM122 307h3v1h-3zM119 309h1v1h-1zM121 310h1v1h-1zM121 311h1v1h-1zM92 328h1v1h-1zM92 329h2v1h-2zM100 329h1v1h-1zM146 329h1v1h-1zM100 330h1v1h-1zM143 330h2v1h-2zM146 330h1v1h-1zM91 331h2v1h-2zM94 331h1v1h-1zM135 331h2v1h-2zM138 331h1v1h-1zM78 332h1v1h-1zM96 332h1v1h-1zM102 332h3v1h-3zM97 333h2v1h-2zM100 333h1v1h-1zM104 333h1v1h-1zM135 333h1v1h-1zM137 333h2v1h-2zM152 333h1v1h-1zM86 334h1v1h-1zM97 334h1v1h-1zM100 334h1v1h-1zM139 334h1v1h-1zM101 335h2v1h-2zM135 335h2v1h-2zM142 335h1v1h-1zM96 336h2v1h-2zM99 336h1v1h-1zM102 336h3v1h-3zM136 336h1v1h-1zM154 336h1v1h-1zM88 337h2v1h-2zM94 337h1v1h-1zM138 337h1v1h-1zM164 337h1v1h-1zM90 338h1v1h-1zM97 338h1v1h-1zM103 338h1v1h-1zM135 338h1v1h-1zM137 338h3v1h-3zM142 338h1v1h-1zM79 339h1v1h-1zM99 339h1v1h-1zM102 339h1v1h-1zM104 339h1v1h-1zM139 339h2v1h-2zM142 339h1v1h-1zM148 339h1v1h-1zM102 340h1v1h-1zM136 340h2v1h-2zM140 340h1v1h-1zM144 340h1v1h-1zM102 341h3v1h-3zM138 341h2v1h-2zM101 342h2v1h-2zM104 342h1v1h-1zM149 342h1v1h-1zM81 343h1v1h-1zM102 343h1v1h-1zM104 343h1v1h-1zM135 343h1v1h-1zM139 343h1v1h-1zM155 343h2v1h-2zM136 344h2v1h-2z" fill="#b4d2e0"/>
<path d="M157 253h1v1h-1zM252 255h1v1h-1zM263 256h1v1h-1zM99 258h1v1h-1zM147 258h1v1h-1zM217 258h1v1h-1zM174 259h1v1h-1zM177 261h1v1h-1zM220 261h1v1h-1zM55 262h1v1h-1zM147 262h1v1h-1zM150 262h1v1h-1zM229 263h1v1h-1zM93 264h1v1h-1zM194 265h1v1h-1zM196 266h1v1h-1zM186 267h1v1h-1zM180 268h1v1h-1zM165 269h1v1h-1zM151 270h1v1h-1zM145 271h1v1h-1zM161 272h1v1h-1zM164 272h1v1h-1zM205 272h1v1h-1zM92 273h1v1h-1zM179 273h1v1h-1zM185 273h1v1h-1zM149 274h1v1h-1zM64 275h1v1h-1zM72 275h1v1h-1zM82 275h1v1h-1zM61 276h1v1h-1zM160 276h1v1h-1zM215 277h1v1h-1zM71 278h1v1h-1zM136 278h1v1h-1zM101 279h2v1h-2zM136 279h1v1h-1zM139 279h2v1h-2zM174 279h2v1h-2zM219 279h1v1h-1zM228 279h1v1h-1zM255 279h1v1h-1zM102 280h2v1h-2zM136 280h2v1h-2zM139 280h1v1h-1zM141 280h1v1h-1zM151 280h1v1h-1zM153 280h1v1h-1zM169 280h1v1h-1zM88 281h1v1h-1zM90 281h1v1h-1zM95 281h1v1h-1zM100 281h1v1h-1zM103 281h1v1h-1zM140 281h1v1h-1zM143 281h1v1h-1zM146 281h1v1h-1zM181 281h1v1h-1zM189 281h1v1h-1zM195 281h1v1h-1zM209 281h1v1h-1zM213 281h1v1h-1zM225 281h1v1h-1zM95 282h1v1h-1zM97 282h2v1h-2zM100 282h1v1h-1zM103 282h1v1h-1zM138 282h2v1h-2zM142 282h3v1h-3zM146 282h1v1h-1zM159 282h1v1h-1zM179 282h1v1h-1zM85 283h2v1h-2zM90 283h1v1h-1zM94 283h1v1h-1zM96 283h3v1h-3zM138 283h2v1h-2zM141 283h3v1h-3zM145 283h1v1h-1zM147 283h1v1h-1zM170 283h1v1h-1zM201 283h1v1h-1zM90 284h1v1h-1zM93 284h2v1h-2zM99 284h1v1h-1zM102 284h2v1h-2zM137 284h1v1h-1zM139 284h3v1h-3zM145 284h3v1h-3zM164 284h1v1h-1zM168 284h1v1h-1zM191 284h1v1h-1zM202 284h1v1h-1zM258 284h1v1h-1zM86 285h1v1h-1zM88 285h1v1h-1zM93 285h1v1h-1zM95 285h1v1h-1zM98 285h4v1h-4zM136 285h1v1h-1zM138 285h1v1h-1zM140 285h1v1h-1zM142 285h1v1h-1zM144 285h3v1h-3zM153 285h2v1h-2zM164 285h1v1h-1zM176 285h1v1h-1zM250 285h1v1h-1zM83 286h1v1h-1zM86 286h1v1h-1zM91 286h1v1h-1zM94 286h2v1h-2zM100 286h1v1h-1zM102 286h2v1h-2zM138 286h4v1h-4zM143 286h4v1h-4zM150 286h2v1h-2zM164 286h1v1h-1zM88 287h1v1h-1zM93 287h1v1h-1zM96 287h4v1h-4zM101 287h1v1h-1zM103 287h1v1h-1zM137 287h1v1h-1zM141 287h6v1h-6zM148 287h3v1h-3zM154 287h1v1h-1zM156 287h1v1h-1zM188 287h1v1h-1zM204 287h1v1h-1zM65 288h1v1h-1zM82 288h1v1h-1zM90 288h1v1h-1zM94 288h2v1h-2zM97 288h2v1h-2zM100 288h2v1h-2zM138 288h1v1h-1zM141 288h2v1h-2zM145 288h2v1h-2zM150 288h1v1h-1zM160 288h1v1h-1zM162 288h1v1h-1zM186 288h1v1h-1zM190 288h1v1h-1zM200 288h1v1h-1zM204 288h1v1h-1zM93 289h2v1h-2zM97 289h1v1h-1zM99 289h3v1h-3zM103 289h1v1h-1zM137 289h2v1h-2zM141 289h1v1h-1zM145 289h3v1h-3zM149 289h1v1h-1zM152 289h1v1h-1zM157 289h1v1h-1zM241 289h1v1h-1zM64 290h1v1h-1zM79 290h1v1h-1zM93 290h2v1h-2zM96 290h1v1h-1zM99 290h1v1h-1zM101 290h2v1h-2zM136 290h5v1h-5zM142 290h1v1h-1zM144 290h1v1h-1zM146 290h3v1h-3zM155 290h1v1h-1zM159 290h2v1h-2zM175 290h1v1h-1zM177 290h1v1h-1zM182 290h1v1h-1zM191 290h1v1h-1zM54 291h1v1h-1zM89 291h2v1h-2zM93 291h2v1h-2zM96 291h2v1h-2zM99 291h2v1h-2zM102 291h1v1h-1zM136 291h1v1h-1zM138 291h3v1h-3zM142 291h3v1h-3zM147 291h1v1h-1zM167 291h1v1h-1zM188 291h1v1h-1zM194 291h1v1h-1zM199 291h1v1h-1zM202 291h1v1h-1zM78 292h1v1h-1zM90 292h1v1h-1zM95 292h4v1h-4zM100 292h4v1h-4zM136 292h2v1h-2zM139 292h2v1h-2zM143 292h2v1h-2zM147 292h1v1h-1zM150 292h1v1h-1zM174 292h1v1h-1zM178 292h1v1h-1zM185 292h1v1h-1zM188 292h1v1h-1zM240 292h1v1h-1zM85 293h1v1h-1zM90 293h1v1h-1zM92 293h2v1h-2zM95 293h4v1h-4zM100 293h3v1h-3zM136 293h2v1h-2zM139 293h1v1h-1zM141 293h2v1h-2zM144 293h1v1h-1zM147 293h1v1h-1zM152 293h1v1h-1zM178 293h1v1h-1zM197 293h1v1h-1zM83 294h1v1h-1zM90 294h1v1h-1zM92 294h3v1h-3zM96 294h8v1h-8zM136 294h4v1h-4zM141 294h6v1h-6zM148 294h1v1h-1zM150 294h1v1h-1zM152 294h1v1h-1zM154 294h1v1h-1zM169 294h1v1h-1zM193 294h1v1h-1zM212 294h1v1h-1zM223 294h1v1h-1zM228 294h1v1h-1zM69 295h1v1h-1zM86 295h1v1h-1zM91 295h1v1h-1zM95 295h2v1h-2zM98 295h1v1h-1zM100 295h1v1h-1zM102 295h2v1h-2zM136 295h3v1h-3zM141 295h1v1h-1zM143 295h1v1h-1zM145 295h1v1h-1zM147 295h1v1h-1zM150 295h3v1h-3zM154 295h1v1h-1zM157 295h1v1h-1zM172 295h1v1h-1zM185 295h1v1h-1zM205 295h1v1h-1zM231 295h1v1h-1zM74 296h1v1h-1zM82 296h3v1h-3zM87 296h1v1h-1zM91 296h1v1h-1zM93 296h4v1h-4zM98 296h7v1h-7zM136 296h1v1h-1zM138 296h10v1h-10zM149 296h1v1h-1zM151 296h2v1h-2zM154 296h2v1h-2zM164 296h1v1h-1zM168 296h1v1h-1zM187 296h1v1h-1zM76 297h1v1h-1zM82 297h2v1h-2zM92 297h9v1h-9zM103 297h1v1h-1zM136 297h1v1h-1zM138 297h8v1h-8zM147 297h3v1h-3zM152 297h1v1h-1zM156 297h1v1h-1zM159 297h1v1h-1zM83 298h1v1h-1zM87 298h1v1h-1zM92 298h2v1h-2zM95 298h2v1h-2zM98 298h6v1h-6zM136 298h1v1h-1zM138 298h1v1h-1zM140 298h2v1h-2zM143 298h6v1h-6zM153 298h1v1h-1zM155 298h1v1h-1zM158 298h1v1h-1zM161 298h1v1h-1zM184 298h1v1h-1zM186 298h1v1h-1zM255 298h1v1h-1zM71 299h1v1h-1zM75 299h1v1h-1zM84 299h1v1h-1zM91 299h11v1h-11zM103 299h1v1h-1zM136 299h4v1h-4zM141 299h1v1h-1zM146 299h5v1h-5zM159 299h1v1h-1zM168 299h1v1h-1zM203 299h1v1h-1zM217 299h1v1h-1zM73 300h1v1h-1zM78 300h1v1h-1zM87 300h2v1h-2zM92 300h1v1h-1zM94 300h9v1h-9zM136 300h3v1h-3zM140 300h8v1h-8zM149 300h7v1h-7zM163 300h1v1h-1zM175 300h1v1h-1zM177 300h1v1h-1zM196 300h1v1h-1zM205 300h1v1h-1zM63 301h1v1h-1zM80 301h2v1h-2zM85 301h1v1h-1zM87 301h5v1h-5zM93 301h5v1h-5zM99 301h5v1h-5zM136 301h4v1h-4zM141 301h9v1h-9zM153 301h1v1h-1zM162 301h1v1h-1zM165 301h1v1h-1zM177 301h1v1h-1zM181 301h1v1h-1zM197 301h1v1h-1zM229 301h1v1h-1zM60 302h1v1h-1zM78 302h1v1h-1zM80 302h1v1h-1zM84 302h5v1h-5zM90 302h2v1h-2zM93 302h1v1h-1zM95 302h6v1h-6zM102 302h2v1h-2zM136 302h12v1h-12zM149 302h4v1h-4zM155 302h1v1h-1zM159 302h2v1h-2zM163 302h3v1h-3zM188 302h1v1h-1zM236 302h1v1h-1zM61 303h1v1h-1zM82 303h1v1h-1zM90 303h10v1h-10zM101 303h2v1h-2zM136 303h4v1h-4zM141 303h6v1h-6zM148 303h5v1h-5zM155 303h1v1h-1zM159 303h1v1h-1zM162 303h2v1h-2zM165 303h2v1h-2zM172 303h1v1h-1zM175 303h1v1h-1zM231 303h1v1h-1zM58 304h1v1h-1zM76 304h1v1h-1zM79 304h2v1h-2zM86 304h1v1h-1zM89 304h1v1h-1zM92 304h4v1h-4zM97 304h7v1h-7zM137 304h2v1h-2zM140 304h1v1h-1zM142 304h9v1h-9zM156 304h1v1h-1zM158 304h1v1h-1zM160 304h1v1h-1zM163 304h1v1h-1zM171 304h1v1h-1zM183 304h1v1h-1zM191 304h1v1h-1zM63 305h1v1h-1zM72 305h1v1h-1zM74 305h1v1h-1zM84 305h1v1h-1zM87 305h5v1h-5zM93 305h11v1h-11zM136 305h1v1h-1zM139 305h6v1h-6zM146 305h2v1h-2zM150 305h2v1h-2zM154 305h2v1h-2zM166 305h1v1h-1zM168 305h1v1h-1zM171 305h1v1h-1zM179 305h1v1h-1zM197 305h1v1h-1zM261 305h1v1h-1zM78 306h1v1h-1zM82 306h2v1h-2zM85 306h3v1h-3zM89 306h2v1h-2zM93 306h1v1h-1zM95 306h8v1h-8zM137 306h7v1h-7zM145 306h5v1h-5zM156 306h1v1h-1zM158 306h2v1h-2zM163 306h3v1h-3zM167 306h1v1h-1zM170 306h2v1h-2zM175 306h1v1h-1zM179 306h1v1h-1zM233 306h1v1h-1zM244 306h1v1h-1zM56 307h1v1h-1zM63 307h1v1h-1zM75 307h2v1h-2zM81 307h1v1h-1zM87 307h1v1h-1zM90 307h1v1h-1zM93 307h1v1h-1zM95 307h1v1h-1zM97 307h7v1h-7zM136 307h3v1h-3zM140 307h9v1h-9zM153 307h2v1h-2zM156 307h1v1h-1zM163 307h1v1h-1zM165 307h1v1h-1zM167 307h1v1h-1zM170 307h1v1h-1zM177 307h2v1h-2zM205 307h1v1h-1zM60 308h1v1h-1zM66 308h2v1h-2zM76 308h3v1h-3zM84 308h1v1h-1zM87 308h1v1h-1zM89 308h1v1h-1zM92 308h2v1h-2zM95 308h2v1h-2zM98 308h6v1h-6zM136 308h12v1h-12zM149 308h1v1h-1zM152 308h1v1h-1zM156 308h1v1h-1zM159 308h2v1h-2zM166 308h1v1h-1zM168 308h1v1h-1zM171 308h1v1h-1zM176 308h1v1h-1zM222 308h1v1h-1zM239 308h1v1h-1zM68 309h1v1h-1zM81 309h1v1h-1zM83 309h1v1h-1zM87 309h1v1h-1zM89 309h3v1h-3zM94 309h10v1h-10zM136 309h13v1h-13zM150 309h4v1h-4zM157 309h1v1h-1zM161 309h1v1h-1zM165 309h1v1h-1zM169 309h1v1h-1zM171 309h1v1h-1zM173 309h1v1h-1zM177 309h2v1h-2zM81 310h2v1h-2zM84 310h3v1h-3zM88 310h1v1h-1zM92 310h4v1h-4zM97 310h5v1h-5zM103 310h1v1h-1zM136 310h12v1h-12zM149 310h2v1h-2zM153 310h1v1h-1zM157 310h3v1h-3zM163 310h1v1h-1zM165 310h1v1h-1zM171 310h1v1h-1zM173 310h1v1h-1zM175 310h1v1h-1zM179 310h1v1h-1zM198 310h1v1h-1zM210 310h1v1h-1zM71 311h1v1h-1zM81 311h1v1h-1zM83 311h3v1h-3zM87 311h1v1h-1zM90 311h2v1h-2zM93 311h11v1h-11zM136 311h13v1h-13zM152 311h4v1h-4zM157 311h1v1h-1zM164 311h1v1h-1zM166 311h1v1h-1zM176 311h1v1h-1zM179 311h1v1h-1zM182 311h1v1h-1zM186 311h1v1h-1zM67 312h1v1h-1zM70 312h1v1h-1zM77 312h1v1h-1zM83 312h1v1h-1zM85 312h3v1h-3zM89 312h2v1h-2zM93 312h10v1h-10zM136 312h15v1h-15zM154 312h2v1h-2zM159 312h1v1h-1zM161 312h1v1h-1zM163 312h1v1h-1zM173 312h1v1h-1zM177 312h1v1h-1zM181 312h1v1h-1zM258 312h1v1h-1zM65 313h1v1h-1zM73 313h1v1h-1zM85 313h3v1h-3zM89 313h1v1h-1zM91 313h1v1h-1zM93 313h11v1h-11zM137 313h3v1h-3zM141 313h7v1h-7zM151 313h1v1h-1zM153 313h2v1h-2zM156 313h3v1h-3zM163 313h1v1h-1zM166 313h1v1h-1zM183 313h1v1h-1zM188 313h1v1h-1zM197 313h1v1h-1zM59 314h1v1h-1zM68 314h1v1h-1zM74 314h1v1h-1zM82 314h1v1h-1zM84 314h2v1h-2zM91 314h2v1h-2zM94 314h1v1h-1zM96 314h7v1h-7zM137 314h2v1h-2zM140 314h9v1h-9zM150 314h2v1h-2zM153 314h1v1h-1zM155 314h2v1h-2zM158 314h2v1h-2zM162 314h1v1h-1zM168 314h1v1h-1zM172 314h1v1h-1zM174 314h1v1h-1zM177 314h2v1h-2zM181 314h1v1h-1zM264 314h1v1h-1zM78 315h1v1h-1zM80 315h2v1h-2zM85 315h4v1h-4zM90 315h14v1h-14zM136 315h12v1h-12zM149 315h5v1h-5zM157 315h2v1h-2zM161 315h1v1h-1zM163 315h1v1h-1zM171 315h1v1h-1zM71 316h2v1h-2zM80 316h1v1h-1zM86 316h1v1h-1zM89 316h10v1h-10zM100 316h3v1h-3zM136 316h11v1h-11zM148 316h1v1h-1zM150 316h1v1h-1zM154 316h1v1h-1zM160 316h1v1h-1zM166 316h1v1h-1zM170 316h1v1h-1zM173 316h1v1h-1zM180 316h1v1h-1zM186 316h1v1h-1zM76 317h2v1h-2zM84 317h1v1h-1zM86 317h4v1h-4zM91 317h13v1h-13zM136 317h11v1h-11zM148 317h5v1h-5zM154 317h1v1h-1zM158 317h1v1h-1zM168 317h1v1h-1zM177 317h2v1h-2zM68 318h1v1h-1zM74 318h1v1h-1zM84 318h1v1h-1zM86 318h2v1h-2zM89 318h1v1h-1zM92 318h12v1h-12zM136 318h5v1h-5zM142 318h10v1h-10zM154 318h1v1h-1zM160 318h2v1h-2zM171 318h1v1h-1zM177 318h1v1h-1zM184 318h1v1h-1zM197 318h1v1h-1zM211 318h1v1h-1zM57 319h1v1h-1zM61 319h1v1h-1zM84 319h1v1h-1zM89 319h1v1h-1zM92 319h12v1h-12zM136 319h6v1h-6zM143 319h7v1h-7zM151 319h1v1h-1zM153 319h3v1h-3zM159 319h2v1h-2zM162 319h1v1h-1zM164 319h1v1h-1zM168 319h1v1h-1zM170 319h1v1h-1zM76 320h1v1h-1zM79 320h4v1h-4zM84 320h2v1h-2zM87 320h1v1h-1zM90 320h2v1h-2zM93 320h7v1h-7zM101 320h3v1h-3zM136 320h11v1h-11zM148 320h6v1h-6zM155 320h3v1h-3zM162 320h1v1h-1zM169 320h1v1h-1zM172 320h1v1h-1zM174 320h1v1h-1zM177 320h1v1h-1zM196 320h1v1h-1zM80 321h1v1h-1zM84 321h3v1h-3zM88 321h3v1h-3zM93 321h11v1h-11zM136 321h11v1h-11zM149 321h1v1h-1zM152 321h2v1h-2zM155 321h4v1h-4zM163 321h1v1h-1zM168 321h1v1h-1zM175 321h1v1h-1zM177 321h1v1h-1zM179 321h1v1h-1zM79 322h1v1h-1zM89 322h2v1h-2zM92 322h12v1h-12zM136 322h15v1h-15zM155 322h2v1h-2zM160 322h1v1h-1zM164 322h1v1h-1zM172 322h1v1h-1zM71 323h1v1h-1zM76 323h2v1h-2zM83 323h1v1h-1zM85 323h1v1h-1zM87 323h3v1h-3zM91 323h13v1h-13zM136 323h8v1h-8zM145 323h1v1h-1zM147 323h1v1h-1zM150 323h5v1h-5zM156 323h2v1h-2zM164 323h1v1h-1zM171 323h1v1h-1zM174 323h1v1h-1zM186 323h1v1h-1zM252 323h1v1h-1zM83 324h1v1h-1zM88 324h1v1h-1zM90 324h14v1h-14zM136 324h11v1h-11zM150 324h3v1h-3zM155 324h2v1h-2zM158 324h1v1h-1zM161 324h1v1h-1zM245 324h1v1h-1zM80 325h2v1h-2zM84 325h1v1h-1zM87 325h2v1h-2zM90 325h1v1h-1zM93 325h11v1h-11zM136 325h7v1h-7zM145 325h3v1h-3zM150 325h3v1h-3zM155 325h1v1h-1zM158 325h1v1h-1zM162 325h1v1h-1zM77 326h1v1h-1zM89 326h1v1h-1zM91 326h10v1h-10zM102 326h2v1h-2zM136 326h6v1h-6zM143 326h5v1h-5zM149 326h1v1h-1zM151 326h1v1h-1zM153 326h3v1h-3zM157 326h1v1h-1zM165 326h1v1h-1zM72 327h1v1h-1zM92 327h2v1h-2zM95 327h1v1h-1zM97 327h5v1h-5zM103 327h1v1h-1zM136 327h15v1h-15zM159 327h1v1h-1z" fill="#f3b27a"/>
<g stroke="#222" stroke-width="1.2">
<line x1="49" y1="249" x2="49" y2="345.6"/>
<line x1="48.4" y1="345" x2="269.6" y2="345"/>
<line x1="45.5" y1="345.0" x2="49" y2="345.0"/>
<line x1="45.5" y1="331.6" x2="49" y2="331.6"/>
<line x1="45.5" y1="318.2" x2="49" y2="318.2"/>
<line x1="45.5" y1="304.8" x2="49" y2="304.8"/>
<line x1="45.5" y1="291.4" x2="49" y2="291.4"/>
<line x1="45.5" y1="278.0" x2="49" y2="278.0"/>
<line x1="45.5" y1="264.6" x2="49" y2="264.6"/>
<line x1="45.5" y1="251.2" x2="49" y2="251.2"/>
<line x1="66.2" y1="345" x2="66.2" y2="348.5"/>
<line x1="119.6" y1="345" x2="119.6" y2="348.5"/>
<line x1="173.0" y1="345" x2="173.0" y2="348.5"/>
<line x1="226.4" y1="345" x2="226.4" y2="348.5"/>
</g>
<line x1="119.6" y1="252.7" x2="119.6" y2="345" stroke="#333" stroke-width="1"/>
<line x1="104.11399999999999" y1="252.7" x2="104.11399999999999" y2="345" stroke="#333" stroke-width="1.1" stroke-dasharray="4 2.5 1 2.5"/>
<line x1="135.08599999999998" y1="252.7" x2="135.08599999999998" y2="345" stroke="#333" stroke-width="1.1" stroke-dasharray="4 2.5 1 2.5"/>
<line x1="50" y1="327.8" x2="267" y2="327.8" stroke="#333" stroke-width="1.1" stroke-dasharray="4 2.5 1 2.5"/>
<text x="42" y="347.7" font-size="7.5" fill="#333" stroke="#333" stroke-width="0.06" text-anchor="end">0</text>
<text x="42" y="334.3" font-size="7.5" fill="#333" stroke="#333" stroke-width="0.06" text-anchor="end">1</text>
<text x="42" y="320.9" font-size="7.5" fill="#333" stroke="#333" stroke-width="0.06" text-anchor="end">2</text>
<text x="42" y="307.5" font-size="7.5" fill="#333" stroke="#333" stroke-width="0.06" text-anchor="end">3</text>
<text x="42" y="294.09999999999997" font-size="7.5" fill="#333" stroke="#333" stroke-width="0.06" text-anchor="end">4</text>
<text x="42" y="280.7" font-size="7.5" fill="#333" stroke="#333" stroke-width="0.06" text-anchor="end">5</text>
<text x="42" y="267.3" font-size="7.5" fill="#333" stroke="#333" stroke-width="0.06" text-anchor="end">6</text>
<text x="42" y="253.89999999999998" font-size="7.5" fill="#333" stroke="#333" stroke-width="0.06" text-anchor="end">7</text>
<text x="66.19999999999999" y="358.5" font-size="7.5" fill="#333" stroke="#333" stroke-width="0.06" text-anchor="middle">−2</text>
<text x="119.6" y="358.5" font-size="7.5" fill="#333" stroke="#333" stroke-width="0.06" text-anchor="middle">0</text>
<text x="173.0" y="358.5" font-size="7.5" fill="#333" stroke="#333" stroke-width="0.06" text-anchor="middle">2</text>
<text x="226.39999999999998" y="358.5" font-size="7.5" fill="#333" stroke="#333" stroke-width="0.06" text-anchor="middle">4</text>
<text x="115" y="371.9" font-size="9.5" fill="#333" stroke="#333" stroke-width="0.06" textLength="90" lengthAdjust="spacingAndGlyphs">log2 fold change (Tepli/ctl)</text>
<text x="0" y="0" font-size="9.5" fill="#333" stroke="#333" stroke-width="0.06" textLength="53" lengthAdjust="spacingAndGlyphs" transform="translate(33,323) rotate(-90)">-log10 (pvalue)</text>
<rect x="201.6" y="249.2" width="45.3" height="14.5" fill="#fff" stroke="#b8324f" stroke-width="1.3"/>
<rect x="208.8" y="269.7" width="40.7" height="14.4" fill="#fff" stroke="#b8324f" stroke-width="1.3"/>
<rect x="226.7" y="285.7" width="37.9" height="14.5" fill="#fff" stroke="#b8324f" stroke-width="1.3"/>
<text x="257" y="285.7" font-size="7.5" fill="#333" stroke="#333" stroke-width="0.06" textLength="22" lengthAdjust="spacingAndGlyphs">NR4A2</text>
<text x="209.9" y="258.8" font-size="7.5" fill="#333" stroke="#333" stroke-width="0.06" textLength="28.3" lengthAdjust="spacingAndGlyphs">BCL2L11</text>
<text x="217.5" y="279.8" font-size="7.5" fill="#333" stroke="#333" stroke-width="0.06" textLength="23" lengthAdjust="spacingAndGlyphs">NR4A1</text>
<text x="234.3" y="296" font-size="7.5" fill="#333" stroke="#333" stroke-width="0.06" textLength="22.5" lengthAdjust="spacingAndGlyphs">NR4A3</text>
<text x="182" y="321.4" font-size="7.5" fill="#333" stroke="#333" stroke-width="0.06" textLength="14.4" lengthAdjust="spacingAndGlyphs">TNF</text>
<text x="182" y="340.7" font-size="7.5" fill="#333" stroke="#333" stroke-width="0.06" textLength="14" lengthAdjust="spacingAndGlyphs">LTA</text>
<line x1="173.4" y1="294.8" x2="198.1" y2="268.8" stroke="#111" stroke-width="1.0"/>
<path d="M202.2 264.5L200.2 270.8L196.0 266.9Z" fill="#111"/>
<line x1="198.5" y1="287.6" x2="210.6" y2="281.6" stroke="#111" stroke-width="1.0"/>
<path d="M216.0 279.0L211.9 284.2L209.3 279.0Z" fill="#111"/>
<line x1="146.0" y1="316.4" x2="170.2" y2="318.1" stroke="#111" stroke-width="1.0"/>
<path d="M176.2 318.5L170.0 321.0L170.4 315.2Z" fill="#111"/>
<line x1="147.4" y1="323.6" x2="169.3" y2="332.9" stroke="#111" stroke-width="1.0"/>
<path d="M174.8 335.2L168.1 335.5L170.4 330.2Z" fill="#111"/>
<text x="296.8" y="105.8" font-size="12" fill="#111" stroke="#111" stroke-width="0" font-weight="bold">C</text>
<defs><clipPath id="cr"><circle cx="382" cy="148" r="42.8"/></clipPath></defs>
<circle cx="407.3" cy="149.2" r="40.4" fill="#d6d5dc" stroke="#7d7d80" stroke-width="1.1"/>
<circle cx="382" cy="148" r="42.8" fill="#c8102e"/>
<circle cx="407.3" cy="149.2" r="40.4" fill="#cd8883" clip-path="url(#cr)"/>
<circle cx="407.3" cy="149.2" r="40.4" fill="none" stroke="#b06a6a" stroke-width="0.5" clip-path="url(#cr)"/>
<text x="323" y="112.2" font-size="7.5" fill="#333" stroke="#333" stroke-width="0.06" textLength="29.5" lengthAdjust="spacingAndGlyphs">OKT3/ctl</text>
<text x="353" y="150.7" font-size="7.5" fill="#fff" stroke="#fff" stroke-width="0.06" text-anchor="middle" textLength="12.5" lengthAdjust="spacingAndGlyphs">700</text>
<text x="397.7" y="150.7" font-size="7.5" fill="#333" stroke="#333" stroke-width="0.06" text-anchor="middle" textLength="12.5" lengthAdjust="spacingAndGlyphs">932</text>
<text x="436.2" y="150.7" font-size="7.5" fill="#333" stroke="#333" stroke-width="0.06" text-anchor="middle" textLength="12.5" lengthAdjust="spacingAndGlyphs">417</text>
<text x="441.8" y="183" font-size="7.5" fill="#333" stroke="#333" stroke-width="0.06" textLength="25.9" lengthAdjust="spacingAndGlyphs">Tepli/ctl</text>
<rect x="329.60" y="243.00" width="17.12" height="2.34" fill="#fbcb89"/>
<rect x="346.42" y="243.00" width="17.12" height="2.34" fill="#f8af71"/>
<rect x="363.24" y="243.00" width="17.12" height="2.34" fill="#fde2a2"/>
<rect x="380.07" y="243.00" width="17.12" height="2.34" fill="#b1d9eb"/>
<rect x="396.89" y="243.00" width="17.12" height="2.34" fill="#6ab1da"/>
<rect x="413.71" y="243.00" width="17.12" height="2.34" fill="#ebf1d5"/>
<rect x="430.53" y="243.00" width="17.12" height="2.34" fill="#eff3d2"/>
<rect x="447.36" y="243.00" width="17.12" height="2.34" fill="#fbf7ca"/>
<rect x="464.18" y="243.00" width="17.12" height="2.34" fill="#e1eedc"/>
<rect x="329.60" y="245.04" width="17.12" height="2.34" fill="#f6a265"/>
<rect x="346.42" y="245.04" width="17.12" height="2.34" fill="#f8b071"/>
<rect x="363.24" y="245.04" width="17.12" height="2.34" fill="#f7a568"/>
<rect x="380.07" y="245.04" width="17.12" height="2.34" fill="#aad5ea"/>
<rect x="396.89" y="245.04" width="17.12" height="2.34" fill="#a4d2e9"/>
<rect x="413.71" y="245.04" width="17.12" height="2.34" fill="#f1f4d1"/>
<rect x="430.53" y="245.04" width="17.12" height="2.34" fill="#f9f6cb"/>
<rect x="447.36" y="245.04" width="17.12" height="2.34" fill="#eef2d3"/>
<rect x="464.18" y="245.04" width="17.12" height="2.34" fill="#fdedb5"/>
<rect x="329.60" y="247.08" width="17.12" height="2.34" fill="#f8ad6f"/>
<rect x="346.42" y="247.08" width="17.12" height="2.34" fill="#f7a568"/>
<rect x="363.24" y="247.08" width="17.12" height="2.34" fill="#f9b677"/>
<rect x="380.07" y="247.08" width="17.12" height="2.34" fill="#badeed"/>
<rect x="396.89" y="247.08" width="17.12" height="2.34" fill="#a0d0e8"/>
<rect x="413.71" y="247.08" width="17.12" height="2.34" fill="#fdf6c4"/>
<rect x="430.53" y="247.08" width="17.12" height="2.34" fill="#f6f5cd"/>
<rect x="447.36" y="247.08" width="17.12" height="2.34" fill="#f4f5cf"/>
<rect x="464.18" y="247.08" width="17.12" height="2.34" fill="#fbf7ca"/>
<rect x="329.60" y="249.13" width="17.12" height="2.34" fill="#ee8350"/>
<rect x="346.42" y="249.13" width="17.12" height="2.34" fill="#f49359"/>
<rect x="363.24" y="249.13" width="17.12" height="2.34" fill="#dd5234"/>
<rect x="380.07" y="249.13" width="17.12" height="2.34" fill="#b9dded"/>
<rect x="396.89" y="249.13" width="17.12" height="2.34" fill="#b7dced"/>
<rect x="413.71" y="249.13" width="17.12" height="2.34" fill="#fdf8c8"/>
<rect x="430.53" y="249.13" width="17.12" height="2.34" fill="#fde4a6"/>
<rect x="447.36" y="249.13" width="17.12" height="2.34" fill="#f2f4d0"/>
<rect x="464.18" y="249.13" width="17.12" height="2.34" fill="#deeddf"/>
<rect x="329.60" y="251.17" width="17.12" height="2.34" fill="#f6a265"/>
<rect x="346.42" y="251.17" width="17.12" height="2.34" fill="#f7a568"/>
<rect x="363.24" y="251.17" width="17.12" height="2.34" fill="#f69b5f"/>
<rect x="380.07" y="251.17" width="17.12" height="2.34" fill="#6db4dc"/>
<rect x="396.89" y="251.17" width="17.12" height="2.34" fill="#e5efd9"/>
<rect x="413.71" y="251.17" width="17.12" height="2.34" fill="#e3efdb"/>
<rect x="430.53" y="251.17" width="17.12" height="2.34" fill="#fdf0bb"/>
<rect x="447.36" y="251.17" width="17.12" height="2.34" fill="#fdf1bc"/>
<rect x="464.18" y="251.17" width="17.12" height="2.34" fill="#f6f5cd"/>
<rect x="329.60" y="253.21" width="17.12" height="2.34" fill="#f69d61"/>
<rect x="346.42" y="253.21" width="17.12" height="2.34" fill="#f7a76a"/>
<rect x="363.24" y="253.21" width="17.12" height="2.34" fill="#fbc886"/>
<rect x="380.07" y="253.21" width="17.12" height="2.34" fill="#58a3d0"/>
<rect x="396.89" y="253.21" width="17.12" height="2.34" fill="#e7f0d8"/>
<rect x="413.71" y="253.21" width="17.12" height="2.34" fill="#e0eddd"/>
<rect x="430.53" y="253.21" width="17.12" height="2.34" fill="#edf2d4"/>
<rect x="447.36" y="253.21" width="17.12" height="2.34" fill="#f0f3d1"/>
<rect x="464.18" y="253.21" width="17.12" height="2.34" fill="#edf2d4"/>
<rect x="329.60" y="255.25" width="17.12" height="2.34" fill="#fbc685"/>
<rect x="346.42" y="255.25" width="17.12" height="2.34" fill="#ef8551"/>
<rect x="363.24" y="255.25" width="17.12" height="2.34" fill="#f7aa6d"/>
<rect x="380.07" y="255.25" width="17.12" height="2.34" fill="#55a0ce"/>
<rect x="396.89" y="255.25" width="17.12" height="2.34" fill="#eaf1d6"/>
<rect x="413.71" y="255.25" width="17.12" height="2.34" fill="#e9f1d7"/>
<rect x="430.53" y="255.25" width="17.12" height="2.34" fill="#f5f5ce"/>
<rect x="447.36" y="255.25" width="17.12" height="2.34" fill="#fdf7c6"/>
<rect x="464.18" y="255.25" width="17.12" height="2.34" fill="#fdeeb7"/>
<rect x="329.60" y="257.29" width="17.12" height="2.34" fill="#ea7749"/>
<rect x="346.42" y="257.29" width="17.12" height="2.34" fill="#e87145"/>
<rect x="363.24" y="257.29" width="17.12" height="2.34" fill="#f9b778"/>
<rect x="380.07" y="257.29" width="17.12" height="2.34" fill="#60a9d4"/>
<rect x="396.89" y="257.29" width="17.12" height="2.34" fill="#ebf1d5"/>
<rect x="413.71" y="257.29" width="17.12" height="2.34" fill="#d0e8e8"/>
<rect x="430.53" y="257.29" width="17.12" height="2.34" fill="#f5f5ce"/>
<rect x="447.36" y="257.29" width="17.12" height="2.34" fill="#fdf3bf"/>
<rect x="464.18" y="257.29" width="17.12" height="2.34" fill="#fdf5c2"/>
<rect x="329.60" y="259.34" width="17.12" height="2.34" fill="#f9bc7c"/>
<rect x="346.42" y="259.34" width="17.12" height="2.34" fill="#e66c42"/>
<rect x="363.24" y="259.34" width="17.12" height="2.34" fill="#f69b5f"/>
<rect x="380.07" y="259.34" width="17.12" height="2.34" fill="#78bbdf"/>
<rect x="396.89" y="259.34" width="17.12" height="2.34" fill="#e7f0d8"/>
<rect x="413.71" y="259.34" width="17.12" height="2.34" fill="#d1e8e8"/>
<rect x="430.53" y="259.34" width="17.12" height="2.34" fill="#e5efd9"/>
<rect x="447.36" y="259.34" width="17.12" height="2.34" fill="#e4efda"/>
<rect x="464.18" y="259.34" width="17.12" height="2.34" fill="#fdeeb8"/>
<rect x="329.60" y="261.38" width="17.12" height="2.34" fill="#f9b576"/>
<rect x="346.42" y="261.38" width="17.12" height="2.34" fill="#f9ba7b"/>
<rect x="363.24" y="261.38" width="17.12" height="2.34" fill="#f8b172"/>
<rect x="380.07" y="261.38" width="17.12" height="2.34" fill="#65add7"/>
<rect x="396.89" y="261.38" width="17.12" height="2.34" fill="#daebe2"/>
<rect x="413.71" y="261.38" width="17.12" height="2.34" fill="#cce6eb"/>
<rect x="430.53" y="261.38" width="17.12" height="2.34" fill="#c1e1ef"/>
<rect x="447.36" y="261.38" width="17.12" height="2.34" fill="#edf2d4"/>
<rect x="464.18" y="261.38" width="17.12" height="2.34" fill="#eef3d3"/>
<rect x="329.60" y="263.42" width="17.12" height="2.34" fill="#f39057"/>
<rect x="346.42" y="263.42" width="17.12" height="2.34" fill="#f6a064"/>
<rect x="363.24" y="263.42" width="17.12" height="2.34" fill="#f49258"/>
<rect x="380.07" y="263.42" width="17.12" height="2.34" fill="#55a0ce"/>
<rect x="396.89" y="263.42" width="17.12" height="2.34" fill="#d7eae4"/>
<rect x="413.71" y="263.42" width="17.12" height="2.34" fill="#dfedde"/>
<rect x="430.53" y="263.42" width="17.12" height="2.34" fill="#fdf5c4"/>
<rect x="447.36" y="263.42" width="17.12" height="2.34" fill="#fdebb1"/>
<rect x="464.18" y="263.42" width="17.12" height="2.34" fill="#fdf4c1"/>
<rect x="329.60" y="265.46" width="17.12" height="2.34" fill="#f18a54"/>
<rect x="346.42" y="265.46" width="17.12" height="2.34" fill="#f39057"/>
<rect x="363.24" y="265.46" width="17.12" height="2.34" fill="#f7a467"/>
<rect x="380.07" y="265.46" width="17.12" height="2.34" fill="#69b1da"/>
<rect x="396.89" y="265.46" width="17.12" height="2.34" fill="#c0e1ef"/>
<rect x="413.71" y="265.46" width="17.12" height="2.34" fill="#dcece0"/>
<rect x="430.53" y="265.46" width="17.12" height="2.34" fill="#ebf2d5"/>
<rect x="447.36" y="265.46" width="17.12" height="2.34" fill="#fdf4c1"/>
<rect x="464.18" y="265.46" width="17.12" height="2.34" fill="#fdf5c3"/>
<rect x="329.60" y="267.51" width="17.12" height="2.34" fill="#e66c42"/>
<rect x="346.42" y="267.51" width="17.12" height="2.34" fill="#f69c60"/>
<rect x="363.24" y="267.51" width="17.12" height="2.34" fill="#ef8551"/>
<rect x="380.07" y="267.51" width="17.12" height="2.34" fill="#99cce6"/>
<rect x="396.89" y="267.51" width="17.12" height="2.34" fill="#e4efda"/>
<rect x="413.71" y="267.51" width="17.12" height="2.34" fill="#fcf8c9"/>
<rect x="430.53" y="267.51" width="17.12" height="2.34" fill="#fbf7ca"/>
<rect x="447.36" y="267.51" width="17.12" height="2.34" fill="#e2eedb"/>
<rect x="464.18" y="267.51" width="17.12" height="2.34" fill="#fbf7ca"/>
<rect x="329.60" y="269.55" width="17.12" height="2.34" fill="#f8ae70"/>
<rect x="346.42" y="269.55" width="17.12" height="2.34" fill="#fabe7e"/>
<rect x="363.24" y="269.55" width="17.12" height="2.34" fill="#f9b576"/>
<rect x="380.07" y="269.55" width="17.12" height="2.34" fill="#3a88be"/>
<rect x="396.89" y="269.55" width="17.12" height="2.34" fill="#f3f4cf"/>
<rect x="413.71" y="269.55" width="17.12" height="2.34" fill="#f1f4d1"/>
<rect x="430.53" y="269.55" width="17.12" height="2.34" fill="#eaf1d6"/>
<rect x="447.36" y="269.55" width="17.12" height="2.34" fill="#deeddf"/>
<rect x="464.18" y="269.55" width="17.12" height="2.34" fill="#ebf1d5"/>
<rect x="329.60" y="271.59" width="17.12" height="2.34" fill="#f38f57"/>
<rect x="346.42" y="271.59" width="17.12" height="2.34" fill="#f5965b"/>
<rect x="363.24" y="271.59" width="17.12" height="2.34" fill="#fbc785"/>
<rect x="380.07" y="271.59" width="17.12" height="2.34" fill="#b1d9eb"/>
<rect x="396.89" y="271.59" width="17.12" height="2.34" fill="#f4f5cf"/>
<rect x="413.71" y="271.59" width="17.12" height="2.34" fill="#edf2d4"/>
<rect x="430.53" y="271.59" width="17.12" height="2.34" fill="#e4efda"/>
<rect x="447.36" y="271.59" width="17.12" height="2.34" fill="#e9f1d6"/>
<rect x="464.18" y="271.59" width="17.12" height="2.34" fill="#e1eedc"/>
<rect x="329.60" y="273.63" width="17.12" height="2.34" fill="#f69e62"/>
<rect x="346.42" y="273.63" width="17.12" height="2.34" fill="#f9bd7d"/>
<rect x="363.24" y="273.63" width="17.12" height="2.34" fill="#f7aa6c"/>
<rect x="380.07" y="273.63" width="17.12" height="2.34" fill="#badeed"/>
<rect x="396.89" y="273.63" width="17.12" height="2.34" fill="#bbdeee"/>
<rect x="413.71" y="273.63" width="17.12" height="2.34" fill="#d3e9e6"/>
<rect x="430.53" y="273.63" width="17.12" height="2.34" fill="#fdefb9"/>
<rect x="447.36" y="273.63" width="17.12" height="2.34" fill="#deedde"/>
<rect x="464.18" y="273.63" width="17.12" height="2.34" fill="#daebe1"/>
<rect x="329.60" y="275.67" width="17.12" height="2.34" fill="#f18b54"/>
<rect x="346.42" y="275.67" width="17.12" height="2.34" fill="#f5945a"/>
<rect x="363.24" y="275.67" width="17.12" height="2.34" fill="#eb784a"/>
<rect x="380.07" y="275.67" width="17.12" height="2.34" fill="#a9d4ea"/>
<rect x="396.89" y="275.67" width="17.12" height="2.34" fill="#ebf2d5"/>
<rect x="413.71" y="275.67" width="17.12" height="2.34" fill="#dfedde"/>
<rect x="430.53" y="275.67" width="17.12" height="2.34" fill="#eaf1d6"/>
<rect x="447.36" y="275.67" width="17.12" height="2.34" fill="#eef3d3"/>
<rect x="464.18" y="275.67" width="17.12" height="2.34" fill="#fdf1bc"/>
<rect x="329.60" y="277.72" width="17.12" height="2.34" fill="#fbc786"/>
<rect x="346.42" y="277.72" width="17.12" height="2.34" fill="#fabf7f"/>
<rect x="363.24" y="277.72" width="17.12" height="2.34" fill="#f59459"/>
<rect x="380.07" y="277.72" width="17.12" height="2.34" fill="#d1e8e8"/>
<rect x="396.89" y="277.72" width="17.12" height="2.34" fill="#cbe6ec"/>
<rect x="413.71" y="277.72" width="17.12" height="2.34" fill="#fdf3c0"/>
<rect x="430.53" y="277.72" width="17.12" height="2.34" fill="#eef3d3"/>
<rect x="447.36" y="277.72" width="17.12" height="2.34" fill="#deedde"/>
<rect x="464.18" y="277.72" width="17.12" height="2.34" fill="#eef2d3"/>
<rect x="329.60" y="279.76" width="17.12" height="2.34" fill="#e76d43"/>
<rect x="346.42" y="279.76" width="17.12" height="2.34" fill="#ee824f"/>
<rect x="363.24" y="279.76" width="17.12" height="2.34" fill="#f7a669"/>
<rect x="380.07" y="279.76" width="17.12" height="2.34" fill="#c0e1ef"/>
<rect x="396.89" y="279.76" width="17.12" height="2.34" fill="#cee7ea"/>
<rect x="413.71" y="279.76" width="17.12" height="2.34" fill="#eaf1d6"/>
<rect x="430.53" y="279.76" width="17.12" height="2.34" fill="#f3f4cf"/>
<rect x="447.36" y="279.76" width="17.12" height="2.34" fill="#fbf7c9"/>
<rect x="464.18" y="279.76" width="17.12" height="2.34" fill="#e6efd9"/>
<rect x="329.60" y="281.80" width="17.12" height="2.31" fill="#95cae5"/>
<rect x="346.42" y="281.80" width="17.12" height="2.31" fill="#8cc5e3"/>
<rect x="363.24" y="281.80" width="17.12" height="2.31" fill="#8cc6e3"/>
<rect x="380.07" y="281.80" width="17.12" height="2.31" fill="#f9f7cb"/>
<rect x="396.89" y="281.80" width="17.12" height="2.31" fill="#fdeab1"/>
<rect x="413.71" y="281.80" width="17.12" height="2.31" fill="#fddd9b"/>
<rect x="430.53" y="281.80" width="17.12" height="2.31" fill="#fdeeb7"/>
<rect x="447.36" y="281.80" width="17.12" height="2.31" fill="#fcd491"/>
<rect x="464.18" y="281.80" width="17.12" height="2.31" fill="#f8b172"/>
<rect x="329.60" y="283.81" width="17.12" height="2.31" fill="#c2e2ef"/>
<rect x="346.42" y="283.81" width="17.12" height="2.31" fill="#96cae5"/>
<rect x="363.24" y="283.81" width="17.12" height="2.31" fill="#95cae5"/>
<rect x="380.07" y="283.81" width="17.12" height="2.31" fill="#fdf1bd"/>
<rect x="396.89" y="283.81" width="17.12" height="2.31" fill="#fcd693"/>
<rect x="413.71" y="283.81" width="17.12" height="2.31" fill="#fcd390"/>
<rect x="430.53" y="283.81" width="17.12" height="2.31" fill="#fde8ac"/>
<rect x="447.36" y="283.81" width="17.12" height="2.31" fill="#f8ae70"/>
<rect x="464.18" y="283.81" width="17.12" height="2.31" fill="#f6a265"/>
<rect x="329.60" y="285.81" width="17.12" height="2.31" fill="#a6d3e9"/>
<rect x="346.42" y="285.81" width="17.12" height="2.31" fill="#86c2e2"/>
<rect x="363.24" y="285.81" width="17.12" height="2.31" fill="#a5d2e9"/>
<rect x="380.07" y="285.81" width="17.12" height="2.31" fill="#fdf5c4"/>
<rect x="396.89" y="285.81" width="17.12" height="2.31" fill="#fde3a5"/>
<rect x="413.71" y="285.81" width="17.12" height="2.31" fill="#fddd99"/>
<rect x="430.53" y="285.81" width="17.12" height="2.31" fill="#fcd491"/>
<rect x="447.36" y="285.81" width="17.12" height="2.31" fill="#f5965b"/>
<rect x="464.18" y="285.81" width="17.12" height="2.31" fill="#f8b173"/>
<rect x="329.60" y="287.82" width="17.12" height="2.31" fill="#bfe0ef"/>
<rect x="346.42" y="287.82" width="17.12" height="2.31" fill="#c8e5ee"/>
<rect x="363.24" y="287.82" width="17.12" height="2.31" fill="#c5e4f0"/>
<rect x="380.07" y="287.82" width="17.12" height="2.31" fill="#fdf0bb"/>
<rect x="396.89" y="287.82" width="17.12" height="2.31" fill="#fddc99"/>
<rect x="413.71" y="287.82" width="17.12" height="2.31" fill="#fde3a4"/>
<rect x="430.53" y="287.82" width="17.12" height="2.31" fill="#fdefb9"/>
<rect x="447.36" y="287.82" width="17.12" height="2.31" fill="#fac483"/>
<rect x="464.18" y="287.82" width="17.12" height="2.31" fill="#f9bc7c"/>
<rect x="329.60" y="289.83" width="17.12" height="2.31" fill="#afd8eb"/>
<rect x="346.42" y="289.83" width="17.12" height="2.31" fill="#d3e9e7"/>
<rect x="363.24" y="289.83" width="17.12" height="2.31" fill="#b6dced"/>
<rect x="380.07" y="289.83" width="17.12" height="2.31" fill="#fde9ae"/>
<rect x="396.89" y="289.83" width="17.12" height="2.31" fill="#fde6a9"/>
<rect x="413.71" y="289.83" width="17.12" height="2.31" fill="#fde09f"/>
<rect x="430.53" y="289.83" width="17.12" height="2.31" fill="#fdecb4"/>
<rect x="447.36" y="289.83" width="17.12" height="2.31" fill="#fdf7c5"/>
<rect x="464.18" y="289.83" width="17.12" height="2.31" fill="#fdf6c4"/>
<rect x="329.60" y="291.84" width="17.12" height="2.31" fill="#60a9d4"/>
<rect x="346.42" y="291.84" width="17.12" height="2.31" fill="#5fa8d4"/>
<rect x="363.24" y="291.84" width="17.12" height="2.31" fill="#62abd5"/>
<rect x="380.07" y="291.84" width="17.12" height="2.31" fill="#f9b778"/>
<rect x="396.89" y="291.84" width="17.12" height="2.31" fill="#ef8551"/>
<rect x="413.71" y="291.84" width="17.12" height="2.31" fill="#e77045"/>
<rect x="430.53" y="291.84" width="17.12" height="2.31" fill="#f8ac6e"/>
<rect x="447.36" y="291.84" width="17.12" height="2.31" fill="#fac180"/>
<rect x="464.18" y="291.84" width="17.12" height="2.31" fill="#fac584"/>
<rect x="329.60" y="293.84" width="17.12" height="2.31" fill="#97cbe6"/>
<rect x="346.42" y="293.84" width="17.12" height="2.31" fill="#acd6ea"/>
<rect x="363.24" y="293.84" width="17.12" height="2.31" fill="#cee7ea"/>
<rect x="380.07" y="293.84" width="17.12" height="2.31" fill="#fde8ac"/>
<rect x="396.89" y="293.84" width="17.12" height="2.31" fill="#f9ba7b"/>
<rect x="413.71" y="293.84" width="17.12" height="2.31" fill="#f9bd7d"/>
<rect x="430.53" y="293.84" width="17.12" height="2.31" fill="#fdecb4"/>
<rect x="447.36" y="293.84" width="17.12" height="2.31" fill="#fbce8c"/>
<rect x="464.18" y="293.84" width="17.12" height="2.31" fill="#fdefb9"/>
<rect x="329.60" y="295.85" width="17.12" height="2.31" fill="#a3d1e8"/>
<rect x="346.42" y="295.85" width="17.12" height="2.31" fill="#cae6ed"/>
<rect x="363.24" y="295.85" width="17.12" height="2.31" fill="#abd6ea"/>
<rect x="380.07" y="295.85" width="17.12" height="2.31" fill="#fde9af"/>
<rect x="396.89" y="295.85" width="17.12" height="2.31" fill="#f9b576"/>
<rect x="413.71" y="295.85" width="17.12" height="2.31" fill="#f7ab6d"/>
<rect x="430.53" y="295.85" width="17.12" height="2.31" fill="#fde6a9"/>
<rect x="447.36" y="295.85" width="17.12" height="2.31" fill="#fde5a8"/>
<rect x="464.18" y="295.85" width="17.12" height="2.31" fill="#fddc98"/>
<rect x="329.60" y="297.86" width="17.12" height="2.31" fill="#a5d3e9"/>
<rect x="346.42" y="297.86" width="17.12" height="2.31" fill="#78bbdf"/>
<rect x="363.24" y="297.86" width="17.12" height="2.31" fill="#94c9e5"/>
<rect x="380.07" y="297.86" width="17.12" height="2.31" fill="#fbca88"/>
<rect x="396.89" y="297.86" width="17.12" height="2.31" fill="#fbc988"/>
<rect x="413.71" y="297.86" width="17.12" height="2.31" fill="#f18b54"/>
<rect x="430.53" y="297.86" width="17.12" height="2.31" fill="#fcd592"/>
<rect x="447.36" y="297.86" width="17.12" height="2.31" fill="#fdd996"/>
<rect x="464.18" y="297.86" width="17.12" height="2.31" fill="#f7a669"/>
<rect x="329.60" y="299.86" width="17.12" height="2.31" fill="#8bc5e3"/>
<rect x="346.42" y="299.86" width="17.12" height="2.31" fill="#9ccee7"/>
<rect x="363.24" y="299.86" width="17.12" height="2.31" fill="#add7eb"/>
<rect x="380.07" y="299.86" width="17.12" height="2.31" fill="#fccf8d"/>
<rect x="396.89" y="299.86" width="17.12" height="2.31" fill="#fddc98"/>
<rect x="413.71" y="299.86" width="17.12" height="2.31" fill="#fde5a8"/>
<rect x="430.53" y="299.86" width="17.12" height="2.31" fill="#fde6a9"/>
<rect x="447.36" y="299.86" width="17.12" height="2.31" fill="#fde5a7"/>
<rect x="464.18" y="299.86" width="17.12" height="2.31" fill="#fde9ae"/>
<rect x="329.60" y="301.87" width="17.12" height="2.31" fill="#94cae5"/>
<rect x="346.42" y="301.87" width="17.12" height="2.31" fill="#a3d1e8"/>
<rect x="363.24" y="301.87" width="17.12" height="2.31" fill="#8bc5e3"/>
<rect x="380.07" y="301.87" width="17.12" height="2.31" fill="#fbcc8a"/>
<rect x="396.89" y="301.87" width="17.12" height="2.31" fill="#fdde9c"/>
<rect x="413.71" y="301.87" width="17.12" height="2.31" fill="#fde2a2"/>
<rect x="430.53" y="301.87" width="17.12" height="2.31" fill="#fcd08d"/>
<rect x="447.36" y="301.87" width="17.12" height="2.31" fill="#fde7aa"/>
<rect x="464.18" y="301.87" width="17.12" height="2.31" fill="#fddf9e"/>
<rect x="329.60" y="303.88" width="17.12" height="2.31" fill="#7fbee0"/>
<rect x="346.42" y="303.88" width="17.12" height="2.31" fill="#b5dbec"/>
<rect x="363.24" y="303.88" width="17.12" height="2.31" fill="#a6d3e9"/>
<rect x="380.07" y="303.88" width="17.12" height="2.31" fill="#fde09f"/>
<rect x="396.89" y="303.88" width="17.12" height="2.31" fill="#fcd18f"/>
<rect x="413.71" y="303.88" width="17.12" height="2.31" fill="#fccf8d"/>
<rect x="430.53" y="303.88" width="17.12" height="2.31" fill="#fde8ad"/>
<rect x="447.36" y="303.88" width="17.12" height="2.31" fill="#fabf7f"/>
<rect x="464.18" y="303.88" width="17.12" height="2.31" fill="#fde09f"/>
<rect x="329.60" y="305.89" width="17.12" height="2.31" fill="#c8e5ef"/>
<rect x="346.42" y="305.89" width="17.12" height="2.31" fill="#b0d8eb"/>
<rect x="363.24" y="305.89" width="17.12" height="2.31" fill="#96cbe6"/>
<rect x="380.07" y="305.89" width="17.12" height="2.31" fill="#fbf7ca"/>
<rect x="396.89" y="305.89" width="17.12" height="2.31" fill="#fde3a3"/>
<rect x="413.71" y="305.89" width="17.12" height="2.31" fill="#fdedb5"/>
<rect x="430.53" y="305.89" width="17.12" height="2.31" fill="#fde3a5"/>
<rect x="447.36" y="305.89" width="17.12" height="2.31" fill="#fde3a5"/>
<rect x="464.18" y="305.89" width="17.12" height="2.31" fill="#fdedb6"/>
<rect x="329.60" y="307.89" width="17.12" height="2.31" fill="#d4e9e6"/>
<rect x="346.42" y="307.89" width="17.12" height="2.31" fill="#d3e9e7"/>
<rect x="363.24" y="307.89" width="17.12" height="2.31" fill="#c0e1ef"/>
<rect x="380.07" y="307.89" width="17.12" height="2.31" fill="#fde5a8"/>
<rect x="396.89" y="307.89" width="17.12" height="2.31" fill="#fde9ae"/>
<rect x="413.71" y="307.89" width="17.12" height="2.31" fill="#fde6a9"/>
<rect x="430.53" y="307.89" width="17.12" height="2.31" fill="#fbce8b"/>
<rect x="447.36" y="307.89" width="17.12" height="2.31" fill="#fddf9c"/>
<rect x="464.18" y="307.89" width="17.12" height="2.31" fill="#fde7ab"/>
<rect x="329.60" y="309.90" width="17.12" height="2.31" fill="#c0e1ef"/>
<rect x="346.42" y="309.90" width="17.12" height="2.31" fill="#a4d2e9"/>
<rect x="363.24" y="309.90" width="17.12" height="2.31" fill="#bcdeee"/>
<rect x="380.07" y="309.90" width="17.12" height="2.31" fill="#fde1a0"/>
<rect x="396.89" y="309.90" width="17.12" height="2.31" fill="#fddc98"/>
<rect x="413.71" y="309.90" width="17.12" height="2.31" fill="#fde6a9"/>
<rect x="430.53" y="309.90" width="17.12" height="2.31" fill="#fddb97"/>
<rect x="447.36" y="309.90" width="17.12" height="2.31" fill="#fde5a8"/>
<rect x="464.18" y="309.90" width="17.12" height="2.31" fill="#fcd793"/>
<rect x="329.60" y="311.91" width="17.12" height="2.31" fill="#74b9de"/>
<rect x="346.42" y="311.91" width="17.12" height="2.31" fill="#c2e2ef"/>
<rect x="363.24" y="311.91" width="17.12" height="2.31" fill="#a0d0e8"/>
<rect x="380.07" y="311.91" width="17.12" height="2.31" fill="#f39057"/>
<rect x="396.89" y="311.91" width="17.12" height="2.31" fill="#fdde9c"/>
<rect x="413.71" y="311.91" width="17.12" height="2.31" fill="#fddd9a"/>
<rect x="430.53" y="311.91" width="17.12" height="2.31" fill="#fabe7e"/>
<rect x="447.36" y="311.91" width="17.12" height="2.31" fill="#fcd491"/>
<rect x="464.18" y="311.91" width="17.12" height="2.31" fill="#fde3a4"/>
<rect x="329.60" y="313.91" width="17.12" height="2.31" fill="#8dc6e4"/>
<rect x="346.42" y="313.91" width="17.12" height="2.31" fill="#bddfee"/>
<rect x="363.24" y="313.91" width="17.12" height="2.31" fill="#b3daec"/>
<rect x="380.07" y="313.91" width="17.12" height="2.31" fill="#fdeeb7"/>
<rect x="396.89" y="313.91" width="17.12" height="2.31" fill="#fbc988"/>
<rect x="413.71" y="313.91" width="17.12" height="2.31" fill="#fde2a2"/>
<rect x="430.53" y="313.91" width="17.12" height="2.31" fill="#fde2a2"/>
<rect x="447.36" y="313.91" width="17.12" height="2.31" fill="#fdedb5"/>
<rect x="464.18" y="313.91" width="17.12" height="2.31" fill="#fde8ad"/>
<rect x="329.60" y="315.92" width="17.12" height="2.31" fill="#a0d0e8"/>
<rect x="346.42" y="315.92" width="17.12" height="2.31" fill="#b9dded"/>
<rect x="363.24" y="315.92" width="17.12" height="2.31" fill="#b6dbec"/>
<rect x="380.07" y="315.92" width="17.12" height="2.31" fill="#fdde9b"/>
<rect x="396.89" y="315.92" width="17.12" height="2.31" fill="#fddd9a"/>
<rect x="413.71" y="315.92" width="17.12" height="2.31" fill="#fdedb4"/>
<rect x="430.53" y="315.92" width="17.12" height="2.31" fill="#fde9ae"/>
<rect x="447.36" y="315.92" width="17.12" height="2.31" fill="#fddd9a"/>
<rect x="464.18" y="315.92" width="17.12" height="2.31" fill="#fde5a8"/>
<rect x="329.60" y="317.93" width="17.12" height="2.31" fill="#bbdeee"/>
<rect x="346.42" y="317.93" width="17.12" height="2.31" fill="#99cce6"/>
<rect x="363.24" y="317.93" width="17.12" height="2.31" fill="#a0d0e8"/>
<rect x="380.07" y="317.93" width="17.12" height="2.31" fill="#fddd99"/>
<rect x="396.89" y="317.93" width="17.12" height="2.31" fill="#fde5a8"/>
<rect x="413.71" y="317.93" width="17.12" height="2.31" fill="#fcd28f"/>
<rect x="430.53" y="317.93" width="17.12" height="2.31" fill="#fde2a2"/>
<rect x="447.36" y="317.93" width="17.12" height="2.31" fill="#fddd9a"/>
<rect x="464.18" y="317.93" width="17.12" height="2.31" fill="#fddd99"/>
<rect x="329.60" y="319.94" width="17.12" height="2.31" fill="#cae6ed"/>
<rect x="346.42" y="319.94" width="17.12" height="2.31" fill="#add7ea"/>
<rect x="363.24" y="319.94" width="17.12" height="2.31" fill="#c3e2ef"/>
<rect x="380.07" y="319.94" width="17.12" height="2.31" fill="#fdeeb8"/>
<rect x="396.89" y="319.94" width="17.12" height="2.31" fill="#fde1a0"/>
<rect x="413.71" y="319.94" width="17.12" height="2.31" fill="#fdeeb7"/>
<rect x="430.53" y="319.94" width="17.12" height="2.31" fill="#fde2a2"/>
<rect x="447.36" y="319.94" width="17.12" height="2.31" fill="#fdf2be"/>
<rect x="464.18" y="319.94" width="17.12" height="2.31" fill="#fdf0bb"/>
<rect x="329.60" y="321.94" width="17.12" height="2.31" fill="#b8dded"/>
<rect x="346.42" y="321.94" width="17.12" height="2.31" fill="#9ecfe7"/>
<rect x="363.24" y="321.94" width="17.12" height="2.31" fill="#8fc7e4"/>
<rect x="380.07" y="321.94" width="17.12" height="2.31" fill="#fde1a1"/>
<rect x="396.89" y="321.94" width="17.12" height="2.31" fill="#fde8ad"/>
<rect x="413.71" y="321.94" width="17.12" height="2.31" fill="#fbc685"/>
<rect x="430.53" y="321.94" width="17.12" height="2.31" fill="#fcd793"/>
<rect x="447.36" y="321.94" width="17.12" height="2.31" fill="#fdd895"/>
<rect x="464.18" y="321.94" width="17.12" height="2.31" fill="#fdde9b"/>
<rect x="329.60" y="323.95" width="17.12" height="2.31" fill="#a3d2e8"/>
<rect x="346.42" y="323.95" width="17.12" height="2.31" fill="#c3e3ef"/>
<rect x="363.24" y="323.95" width="17.12" height="2.31" fill="#99cce6"/>
<rect x="380.07" y="323.95" width="17.12" height="2.31" fill="#fdeaaf"/>
<rect x="396.89" y="323.95" width="17.12" height="2.31" fill="#fbc685"/>
<rect x="413.71" y="323.95" width="17.12" height="2.31" fill="#fbcc8a"/>
<rect x="430.53" y="323.95" width="17.12" height="2.31" fill="#fde3a3"/>
<rect x="447.36" y="323.95" width="17.12" height="2.31" fill="#fdde9c"/>
<rect x="464.18" y="323.95" width="17.12" height="2.31" fill="#fde3a5"/>
<rect x="329.60" y="325.96" width="17.12" height="2.31" fill="#77badf"/>
<rect x="346.42" y="325.96" width="17.12" height="2.31" fill="#85c2e2"/>
<rect x="363.24" y="325.96" width="17.12" height="2.31" fill="#90c7e4"/>
<rect x="380.07" y="325.96" width="17.12" height="2.31" fill="#f8ab6e"/>
<rect x="396.89" y="325.96" width="17.12" height="2.31" fill="#fbcb89"/>
<rect x="413.71" y="325.96" width="17.12" height="2.31" fill="#fac584"/>
<rect x="430.53" y="325.96" width="17.12" height="2.31" fill="#fdda97"/>
<rect x="447.36" y="325.96" width="17.12" height="2.31" fill="#fdd995"/>
<rect x="464.18" y="325.96" width="17.12" height="2.31" fill="#fddd99"/>
<rect x="329.60" y="327.96" width="17.12" height="2.31" fill="#b7dced"/>
<rect x="346.42" y="327.96" width="17.12" height="2.31" fill="#8dc6e4"/>
<rect x="363.24" y="327.96" width="17.12" height="2.31" fill="#8fc7e4"/>
<rect x="380.07" y="327.96" width="17.12" height="2.31" fill="#fde2a2"/>
<rect x="396.89" y="327.96" width="17.12" height="2.31" fill="#fcd592"/>
<rect x="413.71" y="327.96" width="17.12" height="2.31" fill="#fcd390"/>
<rect x="430.53" y="327.96" width="17.12" height="2.31" fill="#fdebb2"/>
<rect x="447.36" y="327.96" width="17.12" height="2.31" fill="#fdda96"/>
<rect x="464.18" y="327.96" width="17.12" height="2.31" fill="#fde9ae"/>
<rect x="329.60" y="329.97" width="17.12" height="2.31" fill="#79bbdf"/>
<rect x="346.42" y="329.97" width="17.12" height="2.31" fill="#76b9de"/>
<rect x="363.24" y="329.97" width="17.12" height="2.31" fill="#7fbfe1"/>
<rect x="380.07" y="329.97" width="17.12" height="2.31" fill="#fdd895"/>
<rect x="396.89" y="329.97" width="17.12" height="2.31" fill="#fde09f"/>
<rect x="413.71" y="329.97" width="17.12" height="2.31" fill="#fcd290"/>
<rect x="430.53" y="329.97" width="17.12" height="2.31" fill="#fdd995"/>
<rect x="447.36" y="329.97" width="17.12" height="2.31" fill="#fcd592"/>
<rect x="464.18" y="329.97" width="17.12" height="2.31" fill="#fcd693"/>
<rect x="329.60" y="331.98" width="17.12" height="2.31" fill="#7bbde0"/>
<rect x="346.42" y="331.98" width="17.12" height="2.31" fill="#8fc7e4"/>
<rect x="363.24" y="331.98" width="17.12" height="2.31" fill="#8ec6e4"/>
<rect x="380.07" y="331.98" width="17.12" height="2.31" fill="#fdeab0"/>
<rect x="396.89" y="331.98" width="17.12" height="2.31" fill="#fbc685"/>
<rect x="413.71" y="331.98" width="17.12" height="2.31" fill="#fddf9e"/>
<rect x="430.53" y="331.98" width="17.12" height="2.31" fill="#fde1a1"/>
<rect x="447.36" y="331.98" width="17.12" height="2.31" fill="#fddd99"/>
<rect x="464.18" y="331.98" width="17.12" height="2.31" fill="#fcd794"/>
<rect x="329.60" y="333.99" width="17.12" height="2.31" fill="#a7d4e9"/>
<rect x="346.42" y="333.99" width="17.12" height="2.31" fill="#88c3e2"/>
<rect x="363.24" y="333.99" width="17.12" height="2.31" fill="#acd6ea"/>
<rect x="380.07" y="333.99" width="17.12" height="2.31" fill="#fcd591"/>
<rect x="396.89" y="333.99" width="17.12" height="2.31" fill="#fdde9b"/>
<rect x="413.71" y="333.99" width="17.12" height="2.31" fill="#fddd99"/>
<rect x="430.53" y="333.99" width="17.12" height="2.31" fill="#fcd28f"/>
<rect x="447.36" y="333.99" width="17.12" height="2.31" fill="#fcd491"/>
<rect x="464.18" y="333.99" width="17.12" height="2.31" fill="#fcd491"/>
<rect x="329.60" y="335.99" width="17.12" height="2.31" fill="#bddfee"/>
<rect x="346.42" y="335.99" width="17.12" height="2.31" fill="#d2e8e7"/>
<rect x="363.24" y="335.99" width="17.12" height="2.31" fill="#abd6ea"/>
<rect x="380.07" y="335.99" width="17.12" height="2.31" fill="#fdecb3"/>
<rect x="396.89" y="335.99" width="17.12" height="2.31" fill="#f9b778"/>
<rect x="413.71" y="335.99" width="17.12" height="2.31" fill="#fde3a4"/>
<rect x="430.53" y="335.99" width="17.12" height="2.31" fill="#fdecb3"/>
<rect x="447.36" y="335.99" width="17.12" height="2.31" fill="#fdf2be"/>
<rect x="464.18" y="335.99" width="17.12" height="2.31" fill="#fddd99"/>
<rect x="329.6" y="238.2" width="50.47" height="3.4" fill="#111"/>
<rect x="380.07" y="238.2" width="50.47" height="3.4" fill="#e2410f"/>
<rect x="430.53" y="238.2" width="50.47" height="3.4" fill="#f29a5f"/>
<g fill="none" stroke="#666" stroke-width="0.6">
<path d="M350.8 238V217.4H411V233.1"/>
<path d="M338.5 238V234.9H371.9V238M355.2 234.9V235.6"/>
<path d="M388.8 238V233.1H452.3V235M406.2 238V234.6H422.5V238M413.8 234.6V233.6H433V238M439.8 238V235H473.5V238M456 235V238"/>
<path d="M329 254.4H310V295.4H329"/>
</g>
<defs><linearGradient id="cb" x1="0" y1="0" x2="0" y2="1"><stop offset="0" stop-color="#d43a26"/><stop offset="0.167" stop-color="#f5955a"/><stop offset="0.333" stop-color="#fddc98"/><stop offset="0.5" stop-color="#fdf8c8"/><stop offset="0.667" stop-color="#c6e4f0"/><stop offset="0.833" stop-color="#6fb6dd"/><stop offset="1" stop-color="#2f7fb8"/></linearGradient></defs>
<rect x="488.3" y="248.7" width="4.6" height="62.3" fill="url(#cb)"/>
<text x="495.8" y="255.1" font-size="7.5" fill="#333" stroke="#333" stroke-width="0.06">2</text>
<text x="495.8" y="269.40000000000003" font-size="7.5" fill="#333" stroke="#333" stroke-width="0.06">1</text>
<text x="495.8" y="283.0" font-size="7.5" fill="#333" stroke="#333" stroke-width="0.06">0</text>
<text x="495.8" y="297.40000000000003" font-size="7.5" fill="#333" stroke="#333" stroke-width="0.06">−1</text>
<text x="495.8" y="311.6" font-size="7.5" fill="#333" stroke="#333" stroke-width="0.06">−2</text>
<rect x="385.8" y="342.3" width="9.1" height="9.7" fill="#111"/>
<rect x="385.8" y="352" width="9.1" height="9.5" fill="#e2410f"/>
<rect x="385.8" y="361.5" width="9.1" height="9.3" fill="#f29a5f"/>
<text x="398.5" y="349.7" font-size="7.5" fill="#333" stroke="#333" stroke-width="0.06" textLength="9" lengthAdjust="spacingAndGlyphs">ctl</text>
<text x="398.5" y="359.2" font-size="7.5" fill="#333" stroke="#333" stroke-width="0.06" textLength="18" lengthAdjust="spacingAndGlyphs">OKT3</text>
<text x="398.5" y="369.2" font-size="7.5" fill="#333" stroke="#333" stroke-width="0.06" textLength="16" lengthAdjust="spacingAndGlyphs">Tepli</text>
<text x="7.5" y="395.3" font-size="12" fill="#111" stroke="#111" stroke-width="0" font-weight="bold">D</text>
<text x="143.8" y="396.1" font-size="8.8" fill="#222" stroke="#222" stroke-width="0.06" textLength="290.6" lengthAdjust="spacingAndGlyphs">Enrichment plot : Negative selection signature, up-regulated genes</text>
<line x1="66.2" y1="476.2" x2="264.3" y2="476.2" stroke="#d0d0d0" stroke-width="0.7"/>
<line x1="66.2" y1="494.1" x2="264.3" y2="494.1" stroke="#d8d8d8" stroke-width="0.6"/>
<line x1="255.6" y1="523.5" x2="264.3" y2="523.5" stroke="#d8d8d8" stroke-width="0.6"/>
<rect x="66.0" y="494.6" width="3.80" height="28.9" fill="#111"/>
<rect x="69.8" y="494.6" width="4.20" height="28.9" fill="#333"/>
<rect x="76.0" y="494.6" width="4.00" height="28.9" fill="#777"/>
<rect x="80.0" y="494.6" width="3.00" height="28.9" fill="#666"/>
<rect x="84.7" y="494.6" width="4.30" height="28.9" fill="#888"/>
<rect x="92.0" y="494.6" width="2.80" height="28.9" fill="#777"/>
<rect x="94.8" y="494.6" width="4.80" height="28.9" fill="#222"/>
<rect x="99.6" y="494.6" width="2.90" height="28.9" fill="#888"/>
<rect x="102.5" y="494.6" width="3.80" height="28.9" fill="#aaa"/>
<rect x="107.7" y="494.6" width="3.30" height="28.9" fill="#777"/>
<rect x="111.0" y="494.6" width="3.00" height="28.9" fill="#333"/>
<rect x="114.0" y="494.6" width="1.40" height="28.9" fill="#777"/>
<rect x="115.4" y="494.6" width="2.40" height="28.9" fill="#333"/>
<rect x="117.8" y="494.6" width="5.80" height="28.9" fill="#222"/>
<rect x="123.6" y="494.6" width="1.40" height="28.9" fill="#777"/>
<rect x="126.5" y="494.6" width="2.90" height="28.9" fill="#222"/>
<rect x="129.4" y="494.6" width="1.90" height="28.9" fill="#888"/>
<rect x="131.3" y="494.6" width="2.40" height="28.9" fill="#444"/>
<rect x="135.6" y="494.6" width="4.80" height="28.9" fill="#666"/>
<rect x="141.9" y="494.6" width="1.90" height="28.9" fill="#111"/>
<rect x="143.8" y="494.6" width="1.90" height="28.9" fill="#777"/>
<rect x="145.7" y="494.6" width="2.90" height="28.9" fill="#333"/>
<rect x="148.6" y="494.6" width="1.90" height="28.9" fill="#888"/>
<rect x="150.5" y="494.6" width="4.80" height="28.9" fill="#999"/>
<rect x="155.3" y="494.6" width="3.90" height="28.9" fill="#333"/>
<rect x="159.2" y="494.6" width="1.90" height="28.9" fill="#777"/>
<rect x="162.6" y="494.6" width="3.40" height="28.9" fill="#333"/>
<rect x="166.0" y="494.6" width="3.80" height="28.9" fill="#999"/>
<rect x="169.8" y="494.6" width="1.90" height="28.9" fill="#444"/>
<rect x="171.7" y="494.6" width="1.90" height="28.9" fill="#777"/>
<rect x="175.5" y="494.6" width="2.90" height="28.9" fill="#777"/>
<rect x="178.4" y="494.6" width="1.50" height="28.9" fill="#222"/>
<rect x="181.8" y="494.6" width="5.20" height="28.9" fill="#666"/>
<rect x="188.5" y="494.6" width="4.30" height="28.9" fill="#333"/>
<rect x="192.8" y="494.6" width="2.00" height="28.9" fill="#777"/>
<rect x="194.8" y="494.6" width="2.40" height="28.9" fill="#333"/>
<rect x="197.2" y="494.6" width="1.40" height="28.9" fill="#bbb"/>
<rect x="198.6" y="494.6" width="4.80" height="28.9" fill="#777"/>
<rect x="203.4" y="494.6" width="1.90" height="28.9" fill="#333"/>
<rect x="207.8" y="494.6" width="2.40" height="28.9" fill="#333"/>
<rect x="210.2" y="494.6" width="1.80" height="28.9" fill="#aaa"/>
<rect x="212.0" y="494.6" width="5.40" height="28.9" fill="#333"/>
<rect x="217.4" y="494.6" width="2.40" height="28.9" fill="#888"/>
<rect x="219.8" y="494.6" width="2.90" height="28.9" fill="#444"/>
<rect x="222.7" y="494.6" width="1.90" height="28.9" fill="#777"/>
<rect x="224.6" y="494.6" width="4.80" height="28.9" fill="#444"/>
<rect x="231.3" y="494.6" width="3.40" height="28.9" fill="#777"/>
<rect x="234.7" y="494.6" width="3.30" height="28.9" fill="#111"/>
<rect x="238.0" y="494.6" width="3.90" height="28.9" fill="#222"/>
<rect x="241.9" y="494.6" width="2.90" height="28.9" fill="#555"/>
<rect x="244.8" y="494.6" width="2.40" height="28.9" fill="#888"/>
<rect x="247.2" y="494.6" width="1.90" height="28.9" fill="#444"/>
<rect x="249.1" y="494.6" width="3.40" height="28.9" fill="#777"/>
<rect x="254.4" y="494.6" width="1.40" height="28.9" fill="#666"/>
<rect x="66.0" y="523.5" width="29.20" height="6.7" fill="#e8404a"/>
<rect x="95.0" y="523.5" width="40.20" height="6.7" fill="#ee6a70"/>
<rect x="135.0" y="523.5" width="15.20" height="6.7" fill="#f0a8be"/>
<rect x="150.0" y="523.5" width="15.20" height="6.7" fill="#f0c4d4"/>
<rect x="165.0" y="523.5" width="35.20" height="6.7" fill="#c8c8ec"/>
<rect x="200.0" y="523.5" width="18.20" height="6.7" fill="#a8a8e0"/>
<rect x="218.0" y="523.5" width="32.20" height="6.7" fill="#6a6ac8"/>
<rect x="250.0" y="523.5" width="5.80" height="6.7" fill="#2a2a9a"/>
<path d="M66.2 476.0C66.2 471.4 66.2 455.4 66.3 448.2C66.4 441.0 66.5 437.3 66.9 432.8C67.3 428.3 68.2 424.2 68.8 421.3C69.4 418.4 70.0 417.1 70.7 415.5C71.4 413.9 72.1 412.9 72.7 411.7C73.3 410.5 73.8 408.5 74.6 408.2C75.4 407.9 76.5 409.3 77.5 409.8C78.5 410.3 79.3 411.2 80.3 411.3C81.2 411.4 82.1 410.3 83.2 410.2C84.3 410.1 85.7 410.1 87.0 410.7C88.3 411.3 89.3 412.7 90.9 413.6C92.5 414.5 94.5 415.0 96.7 415.9C99.0 416.8 101.2 417.3 104.4 419.0C107.6 420.7 113.1 424.6 116.0 426.1C118.9 427.6 119.2 426.9 121.7 428.0C124.2 429.1 128.1 431.0 131.3 432.8C134.5 434.6 137.7 436.5 140.9 438.6C144.1 440.7 146.7 442.4 150.5 445.3C154.3 448.2 160.2 452.8 164.0 455.9C167.8 458.9 170.4 461.2 173.6 463.6C176.8 466.0 180.0 468.2 183.2 470.3C186.4 472.4 189.6 474.3 192.8 476.1C196.0 477.9 199.9 479.5 202.5 480.9C205.1 482.3 206.0 483.6 208.2 484.4C210.4 485.2 213.7 485.2 215.9 485.7C218.2 486.1 219.4 486.8 221.7 487.1C223.9 487.4 227.3 487.4 229.4 487.7C231.5 488.0 232.6 489.2 234.2 489.0C235.8 488.8 237.2 487.6 239.0 486.7C240.8 485.8 243.0 484.8 244.8 483.8C246.6 482.8 248.3 481.9 249.6 480.9C250.9 479.9 251.6 478.7 252.5 478.0C253.4 477.3 254.8 476.9 255.3 476.7" fill="none" stroke="#35a035" stroke-width="1.5" stroke-linejoin="round"/>
<rect x="66.2" y="405.5" width="198.1" height="125.5" fill="none" stroke="#111" stroke-width="1.3"/>
<line x1="62.7" y1="416.2" x2="66.2" y2="416.2" stroke="#222" stroke-width="1"/>
<text x="59.400000000000006" y="418.8" font-size="7.5" fill="#333" stroke="#333" stroke-width="0.06" text-anchor="end">0.4</text>
<line x1="62.7" y1="431.2" x2="66.2" y2="431.2" stroke="#222" stroke-width="1"/>
<text x="59.400000000000006" y="433.8" font-size="7.5" fill="#333" stroke="#333" stroke-width="0.06" text-anchor="end">0.3</text>
<line x1="62.7" y1="446.2" x2="66.2" y2="446.2" stroke="#222" stroke-width="1"/>
<text x="59.400000000000006" y="448.8" font-size="7.5" fill="#333" stroke="#333" stroke-width="0.06" text-anchor="end">0.2</text>
<line x1="62.7" y1="461.2" x2="66.2" y2="461.2" stroke="#222" stroke-width="1"/>
<text x="59.400000000000006" y="463.8" font-size="7.5" fill="#333" stroke="#333" stroke-width="0.06" text-anchor="end">0.1</text>
<line x1="62.7" y1="476.2" x2="66.2" y2="476.2" stroke="#222" stroke-width="1"/>
<text x="59.400000000000006" y="478.8" font-size="7.5" fill="#333" stroke="#333" stroke-width="0.06" text-anchor="end">0.0</text>
<line x1="62.7" y1="491.2" x2="66.2" y2="491.2" stroke="#222" stroke-width="1"/>
<text x="59.400000000000006" y="493.8" font-size="7.5" fill="#333" stroke="#333" stroke-width="0.06" text-anchor="end">−0.1</text>
<text x="0" y="0" font-size="8.6" fill="#333" stroke="#333" stroke-width="0.06" textLength="72.6" lengthAdjust="spacingAndGlyphs" transform="translate(39.3,485.9) rotate(-90)">Enrichment score (ES)</text>
<text x="206.7" y="421.0" font-size="7.3" fill="#333" stroke="#333" stroke-width="0.06" textLength="41.3" lengthAdjust="spacingAndGlyphs">NES = 2.047</text>
<text x="206.7" y="432.0" font-size="7.3" fill="#333" stroke="#333" stroke-width="0.06" textLength="41.8" lengthAdjust="spacingAndGlyphs">FDR = 0.000</text>
<text x="66.2" y="540.2" font-size="7.5" fill="#c2305a" stroke="#c2305a" stroke-width="0.06" textLength="17.9" lengthAdjust="spacingAndGlyphs">OKT3</text>
<text x="243.5" y="540.0" font-size="7.5" fill="#333" stroke="#333" stroke-width="0.06" textLength="7.6" lengthAdjust="spacingAndGlyphs">ctl</text>
<line x1="312.6" y1="484.8" x2="511.5" y2="484.8" stroke="#d0d0d0" stroke-width="0.7"/>
<line x1="312.6" y1="494.1" x2="511.5" y2="494.1" stroke="#d8d8d8" stroke-width="0.6"/>
<line x1="501.5" y1="523.5" x2="511.5" y2="523.5" stroke="#d8d8d8" stroke-width="0.6"/>
<rect x="312.4" y="494.6" width="3.90" height="28.9" fill="#111"/>
<rect x="316.3" y="494.6" width="2.80" height="28.9" fill="#222"/>
<rect x="319.1" y="494.6" width="1.50" height="28.9" fill="#777"/>
<rect x="320.6" y="494.6" width="3.40" height="28.9" fill="#222"/>
<rect x="324.0" y="494.6" width="2.80" height="28.9" fill="#666"/>
<rect x="326.8" y="494.6" width="2.40" height="28.9" fill="#777"/>
<rect x="329.2" y="494.6" width="2.40" height="28.9" fill="#222"/>
<rect x="331.6" y="494.6" width="2.00" height="28.9" fill="#888"/>
<rect x="333.6" y="494.6" width="2.40" height="28.9" fill="#555"/>
<rect x="336.0" y="494.6" width="5.70" height="28.9" fill="#999"/>
<rect x="341.7" y="494.6" width="2.00" height="28.9" fill="#333"/>
<rect x="343.7" y="494.6" width="2.80" height="28.9" fill="#777"/>
<rect x="346.5" y="494.6" width="2.00" height="28.9" fill="#888"/>
<rect x="348.5" y="494.6" width="2.80" height="28.9" fill="#333"/>
<rect x="351.3" y="494.6" width="2.90" height="28.9" fill="#777"/>
<rect x="355.7" y="494.6" width="4.30" height="28.9" fill="#333"/>
<rect x="360.0" y="494.6" width="2.40" height="28.9" fill="#111"/>
<rect x="362.4" y="494.6" width="4.30" height="28.9" fill="#666"/>
<rect x="366.7" y="494.6" width="2.00" height="28.9" fill="#111"/>
<rect x="368.7" y="494.6" width="3.80" height="28.9" fill="#777"/>
<rect x="372.5" y="494.6" width="1.90" height="28.9" fill="#555"/>
<rect x="374.4" y="494.6" width="2.90" height="28.9" fill="#888"/>
<rect x="379.2" y="494.6" width="2.40" height="28.9" fill="#111"/>
<rect x="381.6" y="494.6" width="3.40" height="28.9" fill="#777"/>
<rect x="385.0" y="494.6" width="1.40" height="28.9" fill="#111"/>
<rect x="387.9" y="494.6" width="7.70" height="28.9" fill="#666"/>
<rect x="395.6" y="494.6" width="2.40" height="28.9" fill="#222"/>
<rect x="398.0" y="494.6" width="5.30" height="28.9" fill="#888"/>
<rect x="403.3" y="494.6" width="1.90" height="28.9" fill="#777"/>
<rect x="407.1" y="494.6" width="2.90" height="28.9" fill="#444"/>
<rect x="410.0" y="494.6" width="3.80" height="28.9" fill="#777"/>
<rect x="415.3" y="494.6" width="1.90" height="28.9" fill="#444"/>
<rect x="417.2" y="494.6" width="2.40" height="28.9" fill="#777"/>
<rect x="419.6" y="494.6" width="1.90" height="28.9" fill="#444"/>
<rect x="421.5" y="494.6" width="2.90" height="28.9" fill="#888"/>
<rect x="424.4" y="494.6" width="1.50" height="28.9" fill="#333"/>
<rect x="425.9" y="494.6" width="9.10" height="28.9" fill="#777"/>
<rect x="437.9" y="494.6" width="3.80" height="28.9" fill="#444"/>
<rect x="441.7" y="494.6" width="2.00" height="28.9" fill="#888"/>
<rect x="443.7" y="494.6" width="4.80" height="28.9" fill="#333"/>
<rect x="448.5" y="494.6" width="2.40" height="28.9" fill="#111"/>
<rect x="452.3" y="494.6" width="4.80" height="28.9" fill="#666"/>
<rect x="458.6" y="494.6" width="3.40" height="28.9" fill="#333"/>
<rect x="463.4" y="494.6" width="2.40" height="28.9" fill="#444"/>
<rect x="465.8" y="494.6" width="5.70" height="28.9" fill="#999"/>
<rect x="473.0" y="494.6" width="1.90" height="28.9" fill="#777"/>
<rect x="474.9" y="494.6" width="1.90" height="28.9" fill="#333"/>
<rect x="478.3" y="494.6" width="0.90" height="28.9" fill="#444"/>
<rect x="483.0" y="494.6" width="2.50" height="28.9" fill="#333"/>
<rect x="485.5" y="494.6" width="1.90" height="28.9" fill="#777"/>
<rect x="487.4" y="494.6" width="2.40" height="28.9" fill="#111"/>
<rect x="489.8" y="494.6" width="3.40" height="28.9" fill="#444"/>
<rect x="493.2" y="494.6" width="3.30" height="28.9" fill="#666"/>
<rect x="496.5" y="494.6" width="1.50" height="28.9" fill="#333"/>
<rect x="499.4" y="494.6" width="1.90" height="28.9" fill="#444"/>
<rect x="312.5" y="523.5" width="25.70" height="6.7" fill="#e8404a"/>
<rect x="338.0" y="523.5" width="32.20" height="6.7" fill="#ee6a70"/>
<rect x="370.0" y="523.5" width="25.20" height="6.7" fill="#f0a8be"/>
<rect x="395.0" y="523.5" width="15.20" height="6.7" fill="#d8d0f0"/>
<rect x="410.0" y="523.5" width="31.20" height="6.7" fill="#c8c8ec"/>
<rect x="441.0" y="523.5" width="19.20" height="6.7" fill="#8c8cd2"/>
<rect x="460.0" y="523.5" width="34.20" height="6.7" fill="#6a6ac8"/>
<rect x="494.0" y="523.5" width="7.70" height="6.7" fill="#2a2a9a"/>
<path d="M312.6 484.8C312.7 480.9 312.7 467.8 312.9 461.7C313.1 455.6 313.4 451.6 313.8 448.2C314.2 444.8 314.8 445.7 315.4 441.5C316.0 437.3 316.8 426.9 317.7 423.2C318.6 419.5 319.6 421.1 320.6 419.4C321.6 417.6 322.4 413.9 323.5 412.7C324.6 411.5 326.0 412.6 327.3 412.1C328.6 411.6 329.9 410.0 331.2 409.8C332.5 409.6 333.1 410.2 335.0 410.7C336.9 411.2 340.0 411.9 342.7 412.7C345.4 413.5 348.9 414.4 351.3 415.5C353.7 416.6 355.0 418.2 357.1 419.0C359.2 419.8 361.4 419.4 363.8 420.3C366.2 421.2 367.6 421.8 371.5 424.2C375.4 426.6 382.1 431.3 386.9 434.8C391.7 438.3 396.5 442.5 400.4 445.3C404.2 448.1 406.8 449.3 410.0 451.4C413.2 453.5 416.4 455.8 419.6 457.8C422.8 459.8 426.0 461.7 429.2 463.6C432.4 465.5 435.6 467.8 438.8 469.4C442.0 471.0 445.0 471.9 448.5 473.2C452.0 474.5 456.8 476.0 460.0 477.1C463.2 478.2 465.1 478.9 467.7 480.0C470.3 481.1 472.8 482.4 475.4 483.8C478.0 485.2 481.2 488.0 483.1 488.6C485.0 489.2 485.6 488.0 486.9 487.7C488.2 487.4 489.2 487.0 490.8 486.7C492.4 486.4 495.1 485.7 496.5 485.7C497.9 485.7 498.4 486.8 499.4 486.7C500.4 486.6 501.8 485.1 502.3 484.8" fill="none" stroke="#35a035" stroke-width="1.5" stroke-linejoin="round"/>
<rect x="312.6" y="405.5" width="198.9" height="125.5" fill="none" stroke="#111" stroke-width="1.3"/>
<line x1="309.1" y1="412.8" x2="312.6" y2="412.8" stroke="#222" stroke-width="1"/>
<text x="305.8" y="415.40000000000003" font-size="7.5" fill="#333" stroke="#333" stroke-width="0.06" text-anchor="end">0.5</text>
<line x1="309.1" y1="427.2" x2="312.6" y2="427.2" stroke="#222" stroke-width="1"/>
<text x="305.8" y="429.8" font-size="7.5" fill="#333" stroke="#333" stroke-width="0.06" text-anchor="end">0.4</text>
<line x1="309.1" y1="441.6" x2="312.6" y2="441.6" stroke="#222" stroke-width="1"/>
<text x="305.8" y="444.20000000000005" font-size="7.5" fill="#333" stroke="#333" stroke-width="0.06" text-anchor="end">0.3</text>
<line x1="309.1" y1="456.0" x2="312.6" y2="456.0" stroke="#222" stroke-width="1"/>
<text x="305.8" y="458.6" font-size="7.5" fill="#333" stroke="#333" stroke-width="0.06" text-anchor="end">0.2</text>
<line x1="309.1" y1="470.4" x2="312.6" y2="470.4" stroke="#222" stroke-width="1"/>
<text x="305.8" y="473.00000000000006" font-size="7.5" fill="#333" stroke="#333" stroke-width="0.06" text-anchor="end">0.1</text>
<line x1="309.1" y1="484.8" x2="312.6" y2="484.8" stroke="#222" stroke-width="1"/>
<text x="305.8" y="487.40000000000003" font-size="7.5" fill="#333" stroke="#333" stroke-width="0.06" text-anchor="end">0.0</text>
<text x="0" y="0" font-size="8.6" fill="#333" stroke="#333" stroke-width="0.06" textLength="72.6" lengthAdjust="spacingAndGlyphs" transform="translate(289.3,485.9) rotate(-90)">Enrichment score (ES)</text>
<text x="461" y="421.0" font-size="7.3" fill="#333" stroke="#333" stroke-width="0.06" textLength="40.3" lengthAdjust="spacingAndGlyphs">NES = 2.282</text>
<text x="461" y="432.0" font-size="7.3" fill="#333" stroke="#333" stroke-width="0.06" textLength="40.8" lengthAdjust="spacingAndGlyphs">FDR = 0.000</text>
<text x="312.6" y="540.2" font-size="7.5" fill="#f0a030" stroke="#f0a030" stroke-width="0.06" textLength="14.5" lengthAdjust="spacingAndGlyphs">Tepli</text>
<text x="498.8" y="540.0" font-size="7.5" fill="#333" stroke="#333" stroke-width="0.06" textLength="7.6" lengthAdjust="spacingAndGlyphs">ctl</text>
<text x="8.7" y="563.3" font-size="12" fill="#111" stroke="#111" stroke-width="0" font-weight="bold">E</text>
<text x="175.7" y="564.4" font-size="8.8" fill="#222" stroke="#222" stroke-width="0.06" textLength="225.8" lengthAdjust="spacingAndGlyphs">Enrichment plot : Hallmark TNFA signaling via NFKB</text>
<line x1="65.9" y1="657.2" x2="264.3" y2="657.2" stroke="#d0d0d0" stroke-width="0.7"/>
<line x1="65.9" y1="662.3" x2="264.3" y2="662.3" stroke="#d8d8d8" stroke-width="0.6"/>
<line x1="254" y1="691.9" x2="264.3" y2="691.9" stroke="#d8d8d8" stroke-width="0.6"/>
<rect x="65.8" y="662.8" width="6.40" height="29.1" fill="#111"/>
<rect x="73.6" y="662.8" width="3.90" height="29.1" fill="#777"/>
<rect x="77.5" y="662.8" width="1.90" height="29.1" fill="#333"/>
<rect x="79.4" y="662.8" width="1.90" height="29.1" fill="#777"/>
<rect x="81.3" y="662.8" width="1.90" height="29.1" fill="#222"/>
<rect x="85.2" y="662.8" width="2.40" height="29.1" fill="#444"/>
<rect x="87.6" y="662.8" width="4.30" height="29.1" fill="#888"/>
<rect x="91.9" y="662.8" width="1.90" height="29.1" fill="#444"/>
<rect x="93.8" y="662.8" width="6.70" height="29.1" fill="#aaa"/>
<rect x="100.5" y="662.8" width="2.00" height="29.1" fill="#333"/>
<rect x="102.5" y="662.8" width="1.90" height="29.1" fill="#777"/>
<rect x="106.3" y="662.8" width="1.90" height="29.1" fill="#333"/>
<rect x="110.2" y="662.8" width="1.80" height="29.1" fill="#777"/>
<rect x="114.0" y="662.8" width="2.40" height="29.1" fill="#999"/>
<rect x="119.8" y="662.8" width="1.90" height="29.1" fill="#555"/>
<rect x="124.6" y="662.8" width="1.90" height="29.1" fill="#777"/>
<rect x="126.5" y="662.8" width="1.90" height="29.1" fill="#888"/>
<rect x="128.4" y="662.8" width="3.40" height="29.1" fill="#999"/>
<rect x="131.8" y="662.8" width="4.30" height="29.1" fill="#555"/>
<rect x="136.1" y="662.8" width="2.40" height="29.1" fill="#999"/>
<rect x="142.8" y="662.8" width="1.50" height="29.1" fill="#777"/>
<rect x="145.3" y="662.8" width="2.80" height="29.1" fill="#888"/>
<rect x="152.5" y="662.8" width="1.90" height="29.1" fill="#888"/>
<rect x="154.4" y="662.8" width="2.40" height="29.1" fill="#aaa"/>
<rect x="161.1" y="662.8" width="1.50" height="29.1" fill="#777"/>
<rect x="164.0" y="662.8" width="2.00" height="29.1" fill="#777"/>
<rect x="167.8" y="662.8" width="1.50" height="29.1" fill="#888"/>
<rect x="172.7" y="662.8" width="2.40" height="29.1" fill="#666"/>
<rect x="178.0" y="662.8" width="1.40" height="29.1" fill="#777"/>
<rect x="179.4" y="662.8" width="1.90" height="29.1" fill="#999"/>
<rect x="183.7" y="662.8" width="1.50" height="29.1" fill="#777"/>
<rect x="187.6" y="662.8" width="3.30" height="29.1" fill="#555"/>
<rect x="199.6" y="662.8" width="1.40" height="29.1" fill="#666"/>
<rect x="205.3" y="662.8" width="2.50" height="29.1" fill="#444"/>
<rect x="211.1" y="662.8" width="1.50" height="29.1" fill="#777"/>
<rect x="214.0" y="662.8" width="2.00" height="29.1" fill="#999"/>
<rect x="216.9" y="662.8" width="2.90" height="29.1" fill="#aaa"/>
<rect x="219.8" y="662.8" width="1.90" height="29.1" fill="#888"/>
<rect x="221.7" y="662.8" width="2.90" height="29.1" fill="#999"/>
<rect x="224.6" y="662.8" width="6.20" height="29.1" fill="#888"/>
<rect x="241.9" y="662.8" width="2.90" height="29.1" fill="#333"/>
<rect x="244.8" y="662.8" width="4.80" height="29.1" fill="#888"/>
<rect x="249.6" y="662.8" width="3.80" height="29.1" fill="#444"/>
<rect x="66.0" y="691.9" width="31.20" height="6.4" fill="#e8404a"/>
<rect x="97.0" y="691.9" width="38.20" height="6.4" fill="#ee6a70"/>
<rect x="135.0" y="691.9" width="27.20" height="6.4" fill="#f0a8be"/>
<rect x="162.0" y="691.9" width="40.20" height="6.4" fill="#c8c8ec"/>
<rect x="202.0" y="691.9" width="16.20" height="6.4" fill="#8c8cd2"/>
<rect x="218.0" y="691.9" width="30.20" height="6.4" fill="#6a6ac8"/>
<rect x="248.0" y="691.9" width="6.20" height="6.4" fill="#2a2a9a"/>
<path d="M66.2 657.0C66.2 646.0 66.2 603.1 66.3 591.2C66.4 579.3 66.5 587.1 66.9 585.5C67.3 583.9 68.0 583.0 68.8 581.6C69.6 580.2 70.7 577.9 71.7 577.4C72.7 576.9 73.0 578.6 74.6 578.7C76.2 578.8 78.9 577.9 81.3 578.2C83.7 578.5 85.5 579.4 89.0 580.7C92.5 582.0 98.7 584.2 102.5 585.8C106.3 587.4 107.2 587.9 112.0 590.3C116.8 592.6 124.9 596.7 131.3 599.9C137.7 603.1 145.1 606.6 150.5 609.5C155.9 612.4 158.6 614.3 164.0 617.2C169.4 620.1 176.8 623.6 183.2 626.8C189.6 630.0 196.1 633.2 202.5 636.4C208.9 639.6 216.9 643.8 221.7 646.0C226.5 648.2 228.1 648.4 231.3 649.9C234.5 651.4 238.7 654.1 240.9 655.1C243.2 656.1 243.5 655.6 244.8 656.0C246.1 656.4 247.0 657.3 248.6 657.6C250.2 657.9 253.4 657.6 254.4 657.6" fill="none" stroke="#35a035" stroke-width="1.5" stroke-linejoin="round"/>
<rect x="65.9" y="573.7" width="198.4" height="125.4" fill="none" stroke="#111" stroke-width="1.3"/>
<line x1="62.400000000000006" y1="577.2" x2="65.9" y2="577.2" stroke="#222" stroke-width="1"/>
<text x="59.10000000000001" y="579.8000000000001" font-size="7.5" fill="#333" stroke="#333" stroke-width="0.06" text-anchor="end">0.8</text>
<line x1="62.400000000000006" y1="587.2" x2="65.9" y2="587.2" stroke="#222" stroke-width="1"/>
<text x="59.10000000000001" y="589.8000000000001" font-size="7.5" fill="#333" stroke="#333" stroke-width="0.06" text-anchor="end">0.7</text>
<line x1="62.400000000000006" y1="597.2" x2="65.9" y2="597.2" stroke="#222" stroke-width="1"/>
<text x="59.10000000000001" y="599.8000000000001" font-size="7.5" fill="#333" stroke="#333" stroke-width="0.06" text-anchor="end">0.6</text>
<line x1="62.400000000000006" y1="607.2" x2="65.9" y2="607.2" stroke="#222" stroke-width="1"/>
<text x="59.10000000000001" y="609.8000000000001" font-size="7.5" fill="#333" stroke="#333" stroke-width="0.06" text-anchor="end">0.5</text>
<line x1="62.400000000000006" y1="617.2" x2="65.9" y2="617.2" stroke="#222" stroke-width="1"/>
<text x="59.10000000000001" y="619.8000000000001" font-size="7.5" fill="#333" stroke="#333" stroke-width="0.06" text-anchor="end">0.4</text>
<line x1="62.400000000000006" y1="627.2" x2="65.9" y2="627.2" stroke="#222" stroke-width="1"/>
<text x="59.10000000000001" y="629.8000000000001" font-size="7.5" fill="#333" stroke="#333" stroke-width="0.06" text-anchor="end">0.3</text>
<line x1="62.400000000000006" y1="637.2" x2="65.9" y2="637.2" stroke="#222" stroke-width="1"/>
<text x="59.10000000000001" y="639.8000000000001" font-size="7.5" fill="#333" stroke="#333" stroke-width="0.06" text-anchor="end">0.2</text>
<line x1="62.400000000000006" y1="647.2" x2="65.9" y2="647.2" stroke="#222" stroke-width="1"/>
<text x="59.10000000000001" y="649.8000000000001" font-size="7.5" fill="#333" stroke="#333" stroke-width="0.06" text-anchor="end">0.1</text>
<line x1="62.400000000000006" y1="657.2" x2="65.9" y2="657.2" stroke="#222" stroke-width="1"/>
<text x="59.10000000000001" y="659.8000000000001" font-size="7.5" fill="#333" stroke="#333" stroke-width="0.06" text-anchor="end">0.0</text>
<text x="0" y="0" font-size="8.6" fill="#333" stroke="#333" stroke-width="0.06" textLength="73.3" lengthAdjust="spacingAndGlyphs" transform="translate(42.9,653.8) rotate(-90)">Enrichment score (ES)</text>
<text x="213.6" y="589.2" font-size="7.3" fill="#333" stroke="#333" stroke-width="0.06" textLength="40.8" lengthAdjust="spacingAndGlyphs">NES = 3.381</text>
<text x="213.6" y="600.2" font-size="7.3" fill="#333" stroke="#333" stroke-width="0.06" textLength="41.3" lengthAdjust="spacingAndGlyphs">FDR = 0.000</text>
<text x="65.9" y="708.3" font-size="7.5" fill="#c2305a" stroke="#c2305a" stroke-width="0.06" textLength="17.9" lengthAdjust="spacingAndGlyphs">OKT3</text>
<text x="241.2" y="708.0999999999999" font-size="7.5" fill="#333" stroke="#333" stroke-width="0.06" textLength="7.6" lengthAdjust="spacingAndGlyphs">ctl</text>
<line x1="312.3" y1="662.4" x2="510.9" y2="662.4" stroke="#d0d0d0" stroke-width="0.7"/>
<line x1="312.3" y1="663.3" x2="510.9" y2="663.3" stroke="#d8d8d8" stroke-width="0.6"/>
<line x1="501.5" y1="691.9" x2="510.9" y2="691.9" stroke="#d8d8d8" stroke-width="0.6"/>
<rect x="312.3" y="663.8" width="4.40" height="28.1" fill="#111"/>
<rect x="316.7" y="663.8" width="2.40" height="28.1" fill="#333"/>
<rect x="320.6" y="663.8" width="3.80" height="28.1" fill="#222"/>
<rect x="324.4" y="663.8" width="4.80" height="28.1" fill="#444"/>
<rect x="329.2" y="663.8" width="2.90" height="28.1" fill="#777"/>
<rect x="335.0" y="663.8" width="2.40" height="28.1" fill="#555"/>
<rect x="337.4" y="663.8" width="1.40" height="28.1" fill="#888"/>
<rect x="338.8" y="663.8" width="2.00" height="28.1" fill="#666"/>
<rect x="340.8" y="663.8" width="2.40" height="28.1" fill="#999"/>
<rect x="343.2" y="663.8" width="1.40" height="28.1" fill="#777"/>
<rect x="350.4" y="663.8" width="1.90" height="28.1" fill="#777"/>
<rect x="353.8" y="663.8" width="1.90" height="28.1" fill="#666"/>
<rect x="355.7" y="663.8" width="1.40" height="28.1" fill="#888"/>
<rect x="357.1" y="663.8" width="1.90" height="28.1" fill="#555"/>
<rect x="361.4" y="663.8" width="1.50" height="28.1" fill="#333"/>
<rect x="369.6" y="663.8" width="3.90" height="28.1" fill="#777"/>
<rect x="376.8" y="663.8" width="2.00" height="28.1" fill="#777"/>
<rect x="378.8" y="663.8" width="4.30" height="28.1" fill="#888"/>
<rect x="387.4" y="663.8" width="1.90" height="28.1" fill="#333"/>
<rect x="394.6" y="663.8" width="1.90" height="28.1" fill="#888"/>
<rect x="407.1" y="663.8" width="1.50" height="28.1" fill="#777"/>
<rect x="419.6" y="663.8" width="1.90" height="28.1" fill="#777"/>
<rect x="425.9" y="663.8" width="1.40" height="28.1" fill="#777"/>
<rect x="427.3" y="663.8" width="1.50" height="28.1" fill="#888"/>
<rect x="438.8" y="663.8" width="2.90" height="28.1" fill="#444"/>
<rect x="441.7" y="663.8" width="2.00" height="28.1" fill="#888"/>
<rect x="445.1" y="663.8" width="5.80" height="28.1" fill="#999"/>
<rect x="452.3" y="663.8" width="3.40" height="28.1" fill="#555"/>
<rect x="457.1" y="663.8" width="1.50" height="28.1" fill="#777"/>
<rect x="460.0" y="663.8" width="1.00" height="28.1" fill="#888"/>
<rect x="463.8" y="663.8" width="2.90" height="28.1" fill="#777"/>
<rect x="473.5" y="663.8" width="2.40" height="28.1" fill="#333"/>
<rect x="480.2" y="663.8" width="1.90" height="28.1" fill="#444"/>
<rect x="487.9" y="663.8" width="3.80" height="28.1" fill="#777"/>
<rect x="496.1" y="663.8" width="1.90" height="28.1" fill="#444"/>
<rect x="498.0" y="663.8" width="3.30" height="28.1" fill="#888"/>
<rect x="312.5" y="691.9" width="25.70" height="6.1" fill="#e8404a"/>
<rect x="338.0" y="691.9" width="32.20" height="6.1" fill="#ee6a70"/>
<rect x="370.0" y="691.9" width="30.20" height="6.1" fill="#f0a8be"/>
<rect x="400.0" y="691.9" width="41.20" height="6.1" fill="#c8c8ec"/>
<rect x="441.0" y="691.9" width="17.20" height="6.1" fill="#8c8cd2"/>
<rect x="458.0" y="691.9" width="35.20" height="6.1" fill="#6a6ac8"/>
<rect x="493.0" y="691.9" width="8.70" height="6.1" fill="#2a2a9a"/>
<path d="M312.5 662.0C312.6 655.0 312.7 630.2 312.9 620.0C313.1 609.8 313.2 605.9 313.5 600.8C313.8 595.7 314.3 592.0 314.8 589.3C315.3 586.6 315.9 585.9 316.7 584.5C317.5 583.1 318.5 581.7 319.6 580.7C320.7 579.7 322.1 579.2 323.5 578.7C324.9 578.2 326.7 577.8 328.3 577.8C329.9 577.8 330.4 577.6 333.1 578.7C335.8 579.8 338.8 581.6 344.6 584.5C350.4 587.4 360.6 592.3 367.7 596.0C374.8 599.7 379.8 602.9 386.9 606.6C393.9 610.3 402.9 614.5 410.0 618.0C417.1 621.5 422.8 624.6 429.2 627.8C435.6 631.0 442.1 634.4 448.5 637.4C454.9 640.4 461.3 643.0 467.7 646.0C474.1 649.0 481.1 653.0 486.9 655.7C492.7 658.4 499.9 661.1 502.5 662.2" fill="none" stroke="#35a035" stroke-width="1.5" stroke-linejoin="round"/>
<rect x="312.3" y="573.7" width="198.6" height="125.1" fill="none" stroke="#111" stroke-width="1.3"/>
<line x1="308.8" y1="581.2" x2="312.3" y2="581.2" stroke="#222" stroke-width="1"/>
<text x="305.5" y="583.8" font-size="7.5" fill="#333" stroke="#333" stroke-width="0.06" text-anchor="end">0.8</text>
<line x1="308.8" y1="591.4" x2="312.3" y2="591.4" stroke="#222" stroke-width="1"/>
<text x="305.5" y="593.95" font-size="7.5" fill="#333" stroke="#333" stroke-width="0.06" text-anchor="end">0.7</text>
<line x1="308.8" y1="601.5" x2="312.3" y2="601.5" stroke="#222" stroke-width="1"/>
<text x="305.5" y="604.1" font-size="7.5" fill="#333" stroke="#333" stroke-width="0.06" text-anchor="end">0.6</text>
<line x1="308.8" y1="611.6" x2="312.3" y2="611.6" stroke="#222" stroke-width="1"/>
<text x="305.5" y="614.25" font-size="7.5" fill="#333" stroke="#333" stroke-width="0.06" text-anchor="end">0.5</text>
<line x1="308.8" y1="621.8" x2="312.3" y2="621.8" stroke="#222" stroke-width="1"/>
<text x="305.5" y="624.4" font-size="7.5" fill="#333" stroke="#333" stroke-width="0.06" text-anchor="end">0.4</text>
<line x1="308.8" y1="631.9" x2="312.3" y2="631.9" stroke="#222" stroke-width="1"/>
<text x="305.5" y="634.55" font-size="7.5" fill="#333" stroke="#333" stroke-width="0.06" text-anchor="end">0.3</text>
<line x1="308.8" y1="642.1" x2="312.3" y2="642.1" stroke="#222" stroke-width="1"/>
<text x="305.5" y="644.7" font-size="7.5" fill="#333" stroke="#333" stroke-width="0.06" text-anchor="end">0.2</text>
<line x1="308.8" y1="652.2" x2="312.3" y2="652.2" stroke="#222" stroke-width="1"/>
<text x="305.5" y="654.85" font-size="7.5" fill="#333" stroke="#333" stroke-width="0.06" text-anchor="end">0.1</text>
<line x1="308.8" y1="662.4" x2="312.3" y2="662.4" stroke="#222" stroke-width="1"/>
<text x="305.5" y="665.0" font-size="7.5" fill="#333" stroke="#333" stroke-width="0.06" text-anchor="end">0.0</text>
<text x="0" y="0" font-size="8.6" fill="#333" stroke="#333" stroke-width="0.06" textLength="71.4" lengthAdjust="spacingAndGlyphs" transform="translate(289.3,653.6) rotate(-90)">Enrichment score (ES)</text>
<text x="461" y="589.2" font-size="7.3" fill="#333" stroke="#333" stroke-width="0.06" textLength="40.3" lengthAdjust="spacingAndGlyphs">NES = 3.401</text>
<text x="461" y="600.2" font-size="7.3" fill="#333" stroke="#333" stroke-width="0.06" textLength="40.8" lengthAdjust="spacingAndGlyphs">FDR = 0.000</text>
<text x="312.3" y="708" font-size="7.5" fill="#f0a030" stroke="#f0a030" stroke-width="0.06" textLength="14.5" lengthAdjust="spacingAndGlyphs">Tepli</text>
<text x="495.8" y="707.8" font-size="7.5" fill="#333" stroke="#333" stroke-width="0.06" textLength="7.6" lengthAdjust="spacingAndGlyphs">ctl</text>
<rect x="0.5" y="0.5" width="519" height="715" fill="none" stroke="#4a4a4a" stroke-width="1"/>
</svg></body></html>
